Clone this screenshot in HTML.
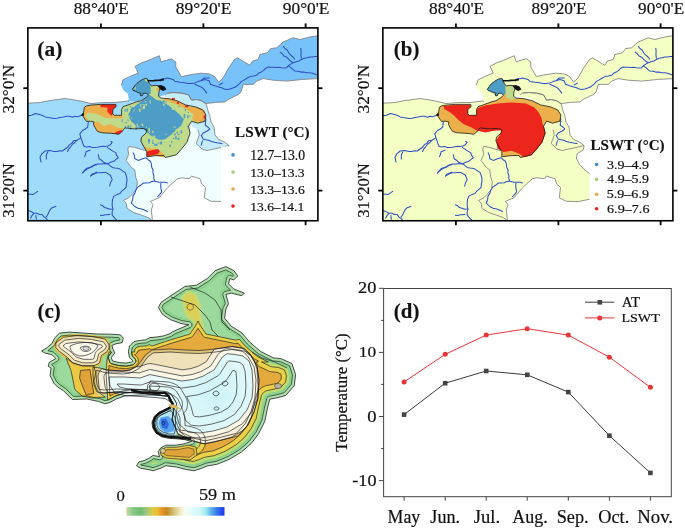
<!DOCTYPE html><html><head><meta charset="utf-8"><style>html,body{margin:0;padding:0;background:#fff}svg{display:block;will-change:transform}</style></head><body><svg width="685" height="529" viewBox="0 0 685 529">
<style>text{font-family:"Liberation Serif",serif;fill:#111}.tk{font-size:16.6px}.lt{font-size:15px;font-weight:bold}.li{font-size:13.5px}.pl{font-size:20px;font-weight:bold}.ct{font-size:16px}.cm{font-size:17.8px}.cy{font-size:16.5px}.cl{font-size:13.6px}.cb{font-size:16.5px}</style>
<rect width="685" height="529" fill="#fff"/>
<defs><clipPath id="ca"><rect x="27.85" y="27.9" width="290.04999999999995" height="192.85"/></clipPath></defs>
<g clip-path="url(#ca)"><path d="M27.9,103.2 L40.0,102.5 L50.0,100.5 L59.0,99.4 L64.8,98.5 L72.0,99.5 L81.8,101.3 L91.0,103.6 L102.6,102.6 L115.0,102.5 L127.7,101.0 L129.0,101.5 L150.0,108.0 L152.0,140.0 L150.0,151.0 L146.1,150.9 L134.8,147.4 L128.7,146.5 L127.8,149.1 L128.7,154.3 L126.1,160.4 L131.3,167.4 L134.8,170.0 L135.7,177.0 L137.4,182.2 L136.5,189.1 L132.2,194.3 L128.7,197.8 L123.5,200.4 L126.1,203.0 L127.0,208.3 L133.9,212.6 L141.7,215.2 L148.7,217.8 L152.2,220.8 L27.9,220.8 Z" fill="#9fdcfc"/>
<path d="M146.1,150.9 L150.0,145.0 L185.0,130.0 L200.0,120.0 L210.0,130.0 L220.0,140.0 L229.2,145.6 L228.1,150.1 L222.4,153.5 L221.3,158.0 L224.7,164.8 L228.1,168.2 L231.5,171.6 L236.0,174.0 L238.0,185.0 L236.0,199.0 L223.5,201.5 L211.3,201.3 L204.3,197.8 L205.5,187.4 L201.7,184.0 L200.0,178.7 L191.3,176.1 L189.6,178.7 L181.7,177.8 L177.4,178.7 L167.8,187.4 L159.1,197.8 L150.4,201.3 L153.0,204.8 L151.3,210.0 L152.2,217.8 L152.2,220.8 L148.7,217.8 L141.7,215.2 L133.9,212.6 L127.0,208.3 L126.1,203.0 L123.5,200.4 L128.7,197.8 L132.2,194.3 L136.5,189.1 L137.4,182.2 L135.7,177.0 L134.8,170.0 L131.3,167.4 L126.1,160.4 L128.7,154.3 L127.8,149.1 L128.7,146.5 L134.8,147.4 Z" fill="#effffd"/>
<path d="M121.3,85.2 L123.0,79.9 L130.0,76.4 L138.2,73.1 L135.1,66.3 L142.0,62.6 L148.0,60.6 L159.3,55.7 L161.1,61.8 L171.4,58.8 L175.8,62.0 L175.8,67.0 L181.4,76.6 L191.1,74.6 L200.8,73.2 L209.1,73.9 L214.6,76.6 L218.8,82.2 L223.0,78.0 L228.5,68.3 L234.1,60.0 L237.5,57.8 L249.9,65.3 L252.4,61.1 L258.3,59.4 L259.9,54.5 L267.4,52.8 L270.7,48.6 L276.6,47.8 L283.2,42.0 L293.2,37.8 L299.9,39.5 L309.8,37.0 L317.9,35.7 L317.9,78.6 L303.2,79.4 L286.5,81.1 L273.2,80.2 L263.2,78.6 L256.6,81.1 L253.3,84.4 L243.3,84.4 L241.0,91.9 L238.2,94.7 L235.0,96.0 L233.3,96.9 L228.3,99.4 L225.0,102.0 L215.4,102.4 L206.0,103.6 L201.4,100.7 L196.7,99.5 L191.5,100.1 L188.5,94.8 L181.5,93.1 L173.4,92.5 L167.5,93.1 L165.2,94.8 L159.0,97.0 L150.7,97.7 L142.5,99.7 L136.4,101.8 L129.0,101.5 L127.7,101.0 L128.9,99.2 L127.7,93.4 L123.0,89.9 Z" fill="#78c2fb"/>
<path d="M165.2,94.8 L167.5,93.1 L173.4,92.5 L181.5,93.1 L188.5,94.8 L191.5,100.1 L196.7,99.5 L201.4,100.7 L206.3,103.8 L207.6,109.5 L209.7,115.5 L211.0,122.0 L214.0,127.0 L215.0,135.0 L218.7,139.5 L224.5,142.0 L229.0,145.6 L221.0,147.5 L207.0,150.5 L202.0,149.0 L196.2,143.5 L199.3,135.0 L198.0,129.7 L191.3,125.7 L188.0,120.0 L185.0,105.0 L175.0,98.0 L165.2,97.0 Z" fill="#c4ecfa"/>
<path d="M27.9,103.2 L40.0,102.5 L50.0,100.5 L59.0,99.4 L64.8,98.5 L72.0,99.5 L81.8,101.3 L91.0,103.6 L102.6,102.6 L115.0,102.5 L127.7,101.0 L129.0,101.5" fill="none" stroke="#7a7a7a" stroke-width="0.8"/>
<path d="M236.0,199.0 L223.5,201.5 L211.3,201.3 L204.3,197.8 L205.5,187.4 L201.7,184.0 L200.0,178.7 L191.3,176.1 L189.6,178.7 L181.7,177.8 L177.4,178.7 L167.8,187.4 L159.1,197.8 L150.4,201.3 L153.0,204.8 L151.3,210.0 L152.2,217.8 L152.2,220.8" fill="none" stroke="#7a7a7a" stroke-width="0.8"/>
<path d="M152.2,220.8 L148.7,217.8 L141.7,215.2 L133.9,212.6 L127.0,208.3 L126.1,203.0 L123.5,200.4 L128.7,197.8 L132.2,194.3 L136.5,189.1 L137.4,182.2 L135.7,177.0 L134.8,170.0 L131.3,167.4 L126.1,160.4 L128.7,154.3 L127.8,149.1 L128.7,146.5 L134.8,147.4 L146.1,150.9" fill="none" stroke="#7a7a7a" stroke-width="0.8"/>
<path d="M229.2,145.6 L228.1,150.1 L222.4,153.5 L221.3,158.0 L224.7,164.8 L228.1,168.2 L231.5,171.6 L236.0,174.0 L238.0,185.0 L236.0,199.0" fill="none" stroke="#7a7a7a" stroke-width="0.8"/>
<path d="M165.2,94.8 L167.5,93.1 L173.4,92.5 L181.5,93.1 L188.5,94.8 L191.5,100.1 L196.7,99.5 L201.4,100.7 L206.3,103.8 L207.6,109.5 L209.7,115.5 L211.0,122.0 L214.0,127.0 L215.0,135.0 L218.7,139.5 L224.5,142.0 L229.0,145.6 L221.0,147.5 L207.0,150.5 L202.0,149.0 L196.2,143.5 L199.3,135.0 L198.0,129.7" fill="none" stroke="#7a7a7a" stroke-width="0.8"/>
<path d="M121.3,85.2 L123.0,79.9 L130.0,76.4 L138.2,73.1 L135.1,66.3 L142.0,62.6 L148.0,60.6 L159.3,55.7 L161.1,61.8 L171.4,58.8 L175.8,62.0 L175.8,67.0 L181.4,76.6 L191.1,74.6 L200.8,73.2 L209.1,73.9 L214.6,76.6 L218.8,82.2 L223.0,78.0 L228.5,68.3 L234.1,60.0 L237.5,57.8 L249.9,65.3 L252.4,61.1 L258.3,59.4 L259.9,54.5 L267.4,52.8 L270.7,48.6 L276.6,47.8 L283.2,42.0 L293.2,37.8 L299.9,39.5 L309.8,37.0 L317.9,35.7" fill="none" stroke="#7a7a7a" stroke-width="0.8"/>
<path d="M317.9,78.6 L303.2,79.4 L286.5,81.1 L273.2,80.2 L263.2,78.6 L256.6,81.1 L253.3,84.4 L243.3,84.4 L241.0,91.9 L238.2,94.7 L235.0,96.0 L233.3,96.9 L228.3,99.4 L225.0,102.0 L215.4,102.4 L206.0,103.6 L201.4,100.7 L196.7,99.5 L191.5,100.1 L188.5,94.8 L181.5,93.1 L173.4,92.5 L167.5,93.1" fill="none" stroke="#7a7a7a" stroke-width="0.8"/>
<path d="M27.9,115.8 L31.5,115.2 L35.5,113.5 L39.5,114.6 L42.5,115.5 L45.2,116.9 L48.2,117.5 L51.2,117.9 L54.2,118.6 L57.1,118.2 L59.9,117.5 L63.3,117.0 L66.7,116.3 L69.6,116.3 L72.4,117.3 L74.9,116.3 L77.7,116.7 L80.3,115.8 L83.0,115.0" fill="none" stroke="#2f4fc2" stroke-width="1.05" stroke-linejoin="round"/>
<path d="M88.3,122.0 L87.7,127.1 L85.3,129.0 L82.6,130.5 L79.8,133.9 L80.9,137.9 L76.9,140.2 L73.5,140.8 L71.9,143.1 L69.4,144.6 L67.9,147.0 L65.1,149.0 L62.2,151.0 L59.5,150.8 L56.9,151.4 L54.2,151.5 L49.7,150.4 L45.2,151.0 L41.8,153.8 L40.0,157.2 L40.5,159.8 L41.2,162.3" fill="none" stroke="#2f4fc2" stroke-width="1.05" stroke-linejoin="round"/>
<path d="M48.0,151.5 L46.3,155.0 L46.3,159.5" fill="none" stroke="#2f4fc2" stroke-width="1.05" stroke-linejoin="round"/>
<path d="M76.9,140.2 L74.9,142.5 L72.4,144.2 L70.6,146.8 L68.7,149.2 L67.3,152.1" fill="none" stroke="#2f4fc2" stroke-width="1.05" stroke-linejoin="round"/>
<path d="M80.9,137.9 L82.0,140.8 L82.9,143.7 L84.3,146.5 L86.9,146.9 L89.6,146.5 L92.2,147.5 L94.8,147.4 L97.4,147.3 L100.0,146.7 L102.6,146.2 L105.2,146.5 L107.9,146.0 L110.4,144.8 L112.2,142.2 L110.4,141.3" fill="none" stroke="#2f4fc2" stroke-width="1.05" stroke-linejoin="round"/>
<path d="M107.0,147.4 L109.9,149.1 L112.7,151.1 L115.7,152.6 L116.6,155.4 L118.3,157.8 L116.0,159.4 L113.9,161.3 L110.4,162.2 L107.8,163.9" fill="none" stroke="#2f4fc2" stroke-width="1.05" stroke-linejoin="round"/>
<path d="M107.8,163.9 L104.6,163.4 L101.5,164.0 L98.3,163.9 L95.5,164.5 L93.0,165.7 L90.4,167.5 L87.5,168.8 L85.0,170.5 L82.6,172.6" fill="none" stroke="#2f4fc2" stroke-width="1.05" stroke-linejoin="round"/>
<path d="M90.4,176.1 L94.8,173.5 L97.6,172.8 L100.4,172.7 L103.3,172.5 L106.1,172.6 L110.4,175.2 L112.2,179.6 L110.4,182.9 L109.6,186.5" fill="none" stroke="#2f4fc2" stroke-width="1.05" stroke-linejoin="round"/>
<path d="M107.8,163.9 L110.0,165.6 L112.2,167.4 L114.8,168.1 L117.4,168.3 L120.0,169.1 L122.6,170.9 L125.2,172.6 L126.2,175.6 L127.0,178.7 L126.9,181.6 L126.3,184.5 L126.1,187.4 L124.0,189.4 L121.7,191.2 L120.0,193.5 L116.9,194.6 L113.9,196.1 L112.6,199.4 L112.2,203.0 L112.2,206.1 L113.0,209.1 L112.1,212.1 L112.2,215.2 L114.7,218.1 L117.4,220.8" fill="none" stroke="#2f4fc2" stroke-width="1.05" stroke-linejoin="round"/>
<path d="M100.0,204.8 L102.5,205.6 L104.5,207.5 L107.0,208.3 L109.9,209.2 L113.0,209.1" fill="none" stroke="#2f4fc2" stroke-width="1.05" stroke-linejoin="round"/>
<path d="M100.0,215.2 L102.6,215.4 L105.2,214.8 L107.8,214.8 L110.4,214.3" fill="none" stroke="#2f4fc2" stroke-width="1.05" stroke-linejoin="round"/>
<path d="M98.3,154.3 L99.1,158.7 L101.5,160.2 L103.5,162.2 L107.8,163.9" fill="none" stroke="#2f4fc2" stroke-width="1.05" stroke-linejoin="round"/>
<path d="M84.3,157.0 L85.5,154.5 L86.1,151.7 L90.4,150.0" fill="none" stroke="#2f4fc2" stroke-width="1.05" stroke-linejoin="round"/>
<path d="M27.9,194.0 L32.9,194.6 L35.5,192.9 L38.1,191.1" fill="none" stroke="#2f4fc2" stroke-width="1.05" stroke-linejoin="round"/>
<path d="M27.9,210.4 L31.0,211.6 L34.0,213.3 L36.8,213.2 L39.4,214.5 L42.2,214.5 L43.9,216.9 L46.3,218.6 L48.0,220.8" fill="none" stroke="#2f4fc2" stroke-width="1.05" stroke-linejoin="round"/>
<path d="M30.5,218.6 L31.9,215.7 L34.0,213.3" fill="none" stroke="#2f4fc2" stroke-width="1.05" stroke-linejoin="round"/>
<path d="M36.4,219.8 L35.8,215.1" fill="none" stroke="#2f4fc2" stroke-width="1.05" stroke-linejoin="round"/>
<path d="M45.8,217.4 L47.5,215.2 L48.6,212.7 L49.8,210.2 L51.6,208.1 L56.3,206.3" fill="none" stroke="#2f4fc2" stroke-width="1.05" stroke-linejoin="round"/>
<path d="M82.1,173.5 L84.3,170.7 L86.8,168.2 L89.4,167.6 L92.0,166.8 L94.3,165.1 L97.0,164.7" fill="none" stroke="#2f4fc2" stroke-width="1.05" stroke-linejoin="round"/>
<path d="M90.3,176.4 L92.1,174.1 L94.6,173.2 L97.0,172.0" fill="none" stroke="#2f4fc2" stroke-width="1.05" stroke-linejoin="round"/>
<path d="M133.0,152.6 L134.4,155.5 L134.8,158.7 L138.3,160.4 L142.6,158.7 L146.1,157.8 L148.1,159.7 L150.4,161.3 L151.4,164.1 L151.7,167.2 L153.0,170.0 L152.9,172.9 L153.9,175.7 L153.8,178.6 L154.8,181.3 L159.1,182.2 L162.0,182.3 L164.9,182.3 L167.8,183.0" fill="none" stroke="#2f4fc2" stroke-width="1.05" stroke-linejoin="round"/>
<path d="M154.8,181.3 L152.0,181.6 L149.2,182.7 L146.4,182.9 L143.5,183.0 L140.5,185.3 L137.4,187.4 L135.8,190.2 L134.8,193.4 L133.0,196.1 L132.6,199.7 L131.3,203.0 L134.8,206.5 L138.1,208.2 L141.7,209.1 L144.8,210.2 L147.8,211.7" fill="none" stroke="#2f4fc2" stroke-width="1.05" stroke-linejoin="round"/>
<path d="M160.9,183.0 L160.7,185.9 L161.0,188.8 L161.7,191.7 L159.7,194.4 L157.4,197.0" fill="none" stroke="#2f4fc2" stroke-width="1.05" stroke-linejoin="round"/>
<path d="M205.9,118.4 L205.6,121.7 L205.2,125.0 L208.5,127.7 L209.8,129.0 L207.2,131.0 L203.2,133.0 L201.2,135.6 L203.2,139.0 L205.8,139.7 L208.5,140.3 L211.4,141.5 L214.5,142.3 L217.1,142.8 L219.8,143.2 L222.4,143.6" fill="none" stroke="#2f4fc2" stroke-width="1.05" stroke-linejoin="round"/>
<path d="M202.6,140.3 L201.8,142.9 L201.2,145.6" fill="none" stroke="#2f4fc2" stroke-width="1.05" stroke-linejoin="round"/>
<path d="M160.0,81.5 L161.9,78.7 L164.8,78.8 L167.5,78.0 L170.2,78.7 L173.0,79.4 L175.1,81.5 L180.0,82.2 L182.8,82.5 L185.5,82.9 L188.3,83.5 L191.1,83.6 L195.2,82.9 L197.9,81.6 L200.8,80.8 L204.9,79.4 L209.1,80.8 L210.5,84.3 L214.6,85.7 L218.8,87.0 L221.6,87.8 L224.3,89.1 L227.1,89.6 L229.9,89.1 L232.7,88.1 L235.4,87.0 L237.5,85.3 L239.6,83.6 L241.4,81.4 L243.8,80.1 L246.9,78.3 L250.0,76.6 L253.3,76.0 L256.6,75.3 L258.6,73.2 L261.3,72.1 L263.6,70.4 L265.6,68.3 L268.2,67.0 L270.8,67.3 L273.4,67.2 L276.0,67.5 L278.7,67.3 L281.3,67.8 L283.9,67.9 L286.5,67.8 L288.4,65.7 L290.7,64.1 L293.2,62.8 L296.0,61.8 L298.9,61.0 L301.5,59.4 L304.2,58.3 L307.0,57.8 L309.8,57.0 L312.5,56.9 L315.2,56.5 L317.9,56.5" fill="none" stroke="#2f4fc2" stroke-width="1.05" stroke-linejoin="round"/>
<path d="M194.5,84.3 L197.1,85.3 L199.7,86.4 L202.2,87.7 L204.7,90.4 L207.0,93.3" fill="none" stroke="#2f4fc2" stroke-width="1.05" stroke-linejoin="round"/>
<path d="M200.8,80.8 L204.2,78.0 L207.0,78.1 L209.8,78.0" fill="none" stroke="#2f4fc2" stroke-width="1.05" stroke-linejoin="round"/>
<path d="M218.8,85.0 L223.0,82.9" fill="none" stroke="#2f4fc2" stroke-width="1.05" stroke-linejoin="round"/>
<path d="M293.2,62.8 L290.8,61.2 L288.7,59.3 L286.7,57.2 L284.0,56.0 L282.2,53.7 L279.9,52.0" fill="none" stroke="#2f4fc2" stroke-width="1.05" stroke-linejoin="round"/>
<path d="M294.9,59.4 L293.1,57.0 L290.8,55.1 L288.8,53.0 L287.4,50.3 L284.9,48.5 L283.2,46.1" fill="none" stroke="#2f4fc2" stroke-width="1.05" stroke-linejoin="round"/>
<path d="M301.5,58.6 L301.0,55.9 L301.0,53.2 L301.1,50.5 L300.7,47.8" fill="none" stroke="#2f4fc2" stroke-width="1.05" stroke-linejoin="round"/>
<path d="M288.2,66.1 L290.7,67.4 L292.8,69.3 L294.9,71.1 L297.9,71.3 L300.8,72.1 L303.8,72.1 L306.8,72.8 L309.8,72.8 L312.6,73.3 L315.3,74.3 L317.9,75.3" fill="none" stroke="#2f4fc2" stroke-width="1.05" stroke-linejoin="round"/>
<path d="M146.0,97.5 L141.1,100.7 L136.4,101.8 L128.2,104.9 L123.1,106.6 L121.6,109.5 L121.6,115.3 L114.3,115.3 L112.8,113.9 L112.8,109.5 L116.1,106.6 L115.8,104.4 L100.4,104.4 L90.9,105.1 L86.6,105.8 L84.4,107.3 L83.3,114.0 L82.9,116.1 L84.7,119.0 L86.6,121.5 L90.2,121.2 L93.9,121.9 L93.5,124.1 L94.6,127.0 L96.1,129.2 L97.5,131.4 L101.9,132.8 L109.2,133.2 L114.3,133.6 L118.7,134.3 L121.6,132.1 L123.8,129.2 L125.1,127.9 L134.3,128.9 L143.5,128.5 L146.8,129.9 L146.1,133.1 L141.5,137.1 L140.9,141.0 L143.5,146.3 L146.8,151.5 L146.8,156.8 L155.3,155.7 L163.9,155.5 L165.2,157.5 L169.8,156.5 L176.3,154.8 L181.6,148.9 L186.9,142.3 L190.1,133.1 L188.5,126.3 L191.6,121.2 L197.7,123.2 L204.9,121.2 L205.9,115.0 L202.8,110.0 L195.7,106.9 L185.5,104.9 L177.3,100.8 L169.1,98.7 L160.9,98.0 L158.6,96.3 L158.9,91.9 L160.0,89.0 L159.3,85.8 L155.0,85.3 L151.3,86.0 L149.3,83.5 L148.4,81.0 L147.3,78.8 L145.4,78.4 L142.5,79.5 L139.6,81.3 L136.7,83.5 L134.5,86.1 L132.3,89.3 L133.0,90.4 L135.9,91.5 L138.1,92.6 L141.1,93.4 L140.0,94.1 L140.7,95.9 L142.5,95.5 L143.2,93.4 L146.5,93.2 L148.4,95.4 Z" fill="#c0da8c"/>
<path d="M132.3,89.3 L134.5,86.1 L136.7,83.5 L139.6,81.3 L142.5,79.5 L145.4,78.4 L147.3,78.8 L148.4,81.0 L149.3,83.5 L150.5,87.0 L150.8,93.0 L148.5,95.5 L146.5,93.2 L143.2,93.4 L142.5,95.5 L140.7,95.9 L140.0,94.1 L141.1,93.4 L138.1,92.6 L135.9,91.5 L133.0,90.4 Z" fill="#4e9dc6"/>
<path d="M144,79.5 L147.5,78.9 L148.4,82 L146,81.5 Z M134,88.5 L136,86.5 L135.5,90 Z" fill="#c0da8c"/>
<circle cx="158" cy="89.3" r="1.6" fill="#ebb04c"/>
<path d="M138.7,103.3 L144.0,99.5 L149.5,95.0 L152.0,96.5 L156.6,99.9 L160.9,100.8 L169.4,105.9 L174.5,110.1 L179.6,114.4 L183.9,119.5 L181.3,125.5 L176.2,129.7 L171.1,134.8 L164.4,139.7 L159.2,139.7 L152.6,137.1 L147.3,132.5 L144.7,129.9 L139.5,127.9 L135.5,125.3 L131.0,121.0 L128.0,115.0 L131.0,110.0 L135.0,106.0 Z" fill="#4e9dc6"/>
<rect x="142.7" y="104.2" width="2" height="1" fill="#c0da8c"/><rect x="136.8" y="123.5" width="1" height="3" fill="#c0da8c"/><rect x="135.6" y="127.1" width="1" height="3" fill="#4e9dc6"/><rect x="140.3" y="103.9" width="1" height="3" fill="#c0da8c"/><rect x="162.6" y="100.5" width="2" height="2" fill="#4e9dc6"/><rect x="175.2" y="136.3" width="1.5" height="3" fill="#4e9dc6"/><rect x="121.6" y="119.2" width="1" height="3" fill="#4e9dc6"/><rect x="178.2" y="105.8" width="1.5" height="1" fill="#4e9dc6"/><rect x="164.4" y="100.0" width="1" height="1" fill="#4e9dc6"/><rect x="127.7" y="125.8" width="1" height="1" fill="#4e9dc6"/><rect x="157.6" y="142.5" width="2" height="1" fill="#4e9dc6"/><rect x="186.9" y="125.9" width="1.5" height="1" fill="#4e9dc6"/><rect x="154.2" y="143.9" width="1.5" height="2" fill="#4e9dc6"/><rect x="180.4" y="130.4" width="1.5" height="3" fill="#4e9dc6"/><rect x="171.8" y="107.9" width="2" height="2" fill="#c0da8c"/><rect x="176.6" y="131.7" width="1.5" height="2" fill="#4e9dc6"/><rect x="127.2" y="119.6" width="1.5" height="1" fill="#4e9dc6"/><rect x="128.4" y="115.6" width="2" height="1" fill="#c0da8c"/><rect x="148.1" y="142.4" width="2" height="1" fill="#4e9dc6"/><rect x="183.7" y="114.0" width="1.5" height="3" fill="#4e9dc6"/><rect x="183.3" y="117.2" width="2" height="1" fill="#4e9dc6"/><rect x="129.9" y="126.7" width="1" height="3" fill="#4e9dc6"/><rect x="169.4" y="144.7" width="1.5" height="2" fill="#4e9dc6"/><rect x="145.0" y="101.4" width="1.5" height="1" fill="#c0da8c"/><rect x="152.1" y="130.8" width="1.5" height="2" fill="#c0da8c"/><rect x="177.4" y="137.8" width="2" height="2" fill="#4e9dc6"/><rect x="149.8" y="100.5" width="1" height="3" fill="#c0da8c"/><rect x="138.2" y="126.2" width="1" height="1" fill="#c0da8c"/><rect x="184.9" y="109.9" width="1" height="1" fill="#4e9dc6"/><rect x="155.4" y="143.9" width="2" height="2" fill="#4e9dc6"/><rect x="141.5" y="107.3" width="1" height="2" fill="#c0da8c"/><rect x="163.8" y="139.2" width="1.5" height="1" fill="#c0da8c"/><rect x="130.1" y="125.2" width="1.5" height="1" fill="#4e9dc6"/><rect x="187.2" y="115.1" width="1.5" height="3" fill="#4e9dc6"/><rect x="173.7" y="126.6" width="2" height="1" fill="#c0da8c"/><rect x="130.3" y="109.2" width="2" height="3" fill="#4e9dc6"/><rect x="189.6" y="115.6" width="1" height="1" fill="#4e9dc6"/><rect x="172.9" y="138.0" width="1.5" height="1" fill="#4e9dc6"/><rect x="148.0" y="139.0" width="2" height="3" fill="#4e9dc6"/><rect x="163.0" y="103.7" width="1.5" height="2" fill="#c0da8c"/><rect x="141.1" y="123.8" width="1.5" height="1" fill="#c0da8c"/><rect x="131.3" y="107.0" width="1.5" height="3" fill="#4e9dc6"/><rect x="129.8" y="106.2" width="1" height="1" fill="#4e9dc6"/><rect x="126.4" y="108.5" width="1.5" height="3" fill="#4e9dc6"/><rect x="139.0" y="108.9" width="1.5" height="3" fill="#c0da8c"/><rect x="165.3" y="133.7" width="1.5" height="1" fill="#c0da8c"/><rect x="124.9" y="122.2" width="2" height="1" fill="#4e9dc6"/><rect x="135.7" y="125.9" width="1" height="3" fill="#4e9dc6"/><rect x="152.2" y="143.0" width="2" height="1" fill="#4e9dc6"/><rect x="184.8" y="107.9" width="1" height="3" fill="#4e9dc6"/><rect x="187.9" y="112.0" width="1" height="1" fill="#4e9dc6"/><rect x="149.1" y="131.1" width="1" height="2" fill="#c0da8c"/><rect x="143.0" y="105.9" width="2" height="3" fill="#c0da8c"/><rect x="137.4" y="127.0" width="1.5" height="1" fill="#4e9dc6"/><rect x="152.5" y="135.6" width="1" height="2" fill="#c0da8c"/><rect x="124.4" y="126.1" width="1.5" height="2" fill="#4e9dc6"/><rect x="177.6" y="134.1" width="2" height="1" fill="#4e9dc6"/><rect x="148.5" y="128.2" width="1.5" height="3" fill="#c0da8c"/><rect x="131.2" y="117.5" width="1" height="1" fill="#c0da8c"/><rect x="152.3" y="139.8" width="1" height="3" fill="#4e9dc6"/><rect x="174.2" y="133.5" width="1.5" height="2" fill="#4e9dc6"/><rect x="138.7" y="109.2" width="1.5" height="1" fill="#c0da8c"/><rect x="133.0" y="108.3" width="1.5" height="3" fill="#c0da8c"/><rect x="124.5" y="109.1" width="1" height="3" fill="#4e9dc6"/><rect x="165.5" y="101.8" width="1.5" height="1" fill="#4e9dc6"/><rect x="153.2" y="136.3" width="1.5" height="2" fill="#c0da8c"/><rect x="127.4" y="125.6" width="2" height="2" fill="#4e9dc6"/><rect x="145.8" y="103.8" width="1" height="2" fill="#c0da8c"/><rect x="171.3" y="140.9" width="1" height="2" fill="#4e9dc6"/><rect x="146.0" y="126.8" width="1" height="1" fill="#c0da8c"/><rect x="175.7" y="128.9" width="1" height="3" fill="#c0da8c"/><rect x="141.9" y="124.2" width="1.5" height="2" fill="#c0da8c"/><rect x="148.4" y="139.4" width="1.5" height="1" fill="#4e9dc6"/><rect x="160.1" y="141.5" width="2" height="3" fill="#4e9dc6"/><rect x="144.4" y="104.8" width="1" height="1" fill="#c0da8c"/><rect x="154.3" y="135.6" width="1" height="2" fill="#c0da8c"/><rect x="132.8" y="107.5" width="1.5" height="3" fill="#4e9dc6"/><rect x="145.1" y="104.2" width="2" height="1" fill="#c0da8c"/>
<path d="M83.3,114.0 L84.4,107.3 L86.6,105.8 L90.9,105.1 L100.4,104.4 L115.8,104.4 L116.1,106.6 L112.8,109.5 L112.8,113.9 L114.3,115.3 L121.6,115.3 L124.0,118.0 L118.0,118.5 L105.0,118.0 L97.5,114.0 L88.0,112.4 L85.1,116.1 L88.0,119.0 L86.6,121.5 L84.7,119.0 L82.9,116.1 Z" fill="#ebb04c"/>
<path d="M93.9,121.9 L98.0,122.0 L104.0,126.3 L110.0,124.0 L118.0,127.7 L124.0,128.5 L121.6,132.1 L118.7,134.3 L114.3,133.6 L109.2,133.2 L101.9,132.8 L97.5,131.4 L96.1,129.2 L94.6,127.0 L93.5,124.1 Z" fill="#ebb04c"/>
<path d="M187.4,110.0 L189.7,107.1 L196.7,107.1 L201.4,108.3 L204.9,111.2 L206.1,117.0 L204.9,120.5 L201.4,122.3 L196.7,122.3 L193.2,120.5 L192.1,117.0 L193.8,114.7 L190.9,112.4 Z" fill="#ebb04c"/>
<path d="M165.0,98.3 L172.0,99.0 L180.0,102.0 L186.0,105.0 L190.0,107.0 L188.0,110.0 L184.0,108.0 L178.0,105.0 L170.0,102.0 L164.0,100.0 Z" fill="#ebb04c"/>
<path d="M140.8,138.4 L142.1,143.7 L146.0,147.6 L151.3,148.3 L156.5,148.9 L160.5,151.5 L164.4,154.8 L163.8,157.5 L155.3,155.7 L146.8,156.8 L146.8,151.5 L143.5,146.3 L140.9,141.0 Z" fill="#ebb04c"/>
<path d="M100.4,104.4 L115.8,104.4 L116.1,106.6 L112.8,109.5 L112.8,113.9 L111.4,115.7 L107.4,111.7 L107.4,107.5 L100.4,107.3 Z" fill="#ec261c"/>
<path d="M113.6,133.6 L117.2,131.4 L120.9,129.9 L122.8,131.0 L118.7,134.3 Z" fill="#ec261c"/>
<path d="M146.7,151.5 L151.3,150.2 L157.9,148.9 L159.8,150.9 L157.9,154.2 L155.2,154.8 L151.3,155.5 L146.7,156.5 Z" fill="#ec261c"/>
<rect x="171.9" y="97.9" width="3" height="2" fill="#ec261c"/>
<rect x="176.9" y="101.8" width="2.2" height="2" fill="#ec261c"/>
<rect x="185.3" y="105.3" width="3" height="2" fill="#ec261c"/>
<rect x="203.5" y="115.5" width="2" height="3" fill="#ec261c"/>
<path d="M146.0,97.5 L141.1,100.7 L136.4,101.8 L128.2,104.9 L123.1,106.6 L121.6,109.5 L121.6,115.3 L114.3,115.3 L112.8,113.9 L112.8,109.5 L116.1,106.6 L115.8,104.4 L100.4,104.4 L90.9,105.1 L86.6,105.8 L84.4,107.3 L83.3,114.0 L82.9,116.1 L84.7,119.0 L86.6,121.5 L90.2,121.2 L93.9,121.9 L93.5,124.1 L94.6,127.0 L96.1,129.2 L97.5,131.4 L101.9,132.8 L109.2,133.2 L114.3,133.6 L118.7,134.3 L121.6,132.1 L123.8,129.2 L125.1,127.9 L134.3,128.9 L143.5,128.5 L146.8,129.9 L146.1,133.1 L141.5,137.1 L140.9,141.0 L143.5,146.3 L146.8,151.5 L146.8,156.8 L155.3,155.7 L163.9,155.5 L165.2,157.5 L169.8,156.5 L176.3,154.8 L181.6,148.9 L186.9,142.3 L190.1,133.1 L188.5,126.3 L191.6,121.2 L197.7,123.2 L204.9,121.2 L205.9,115.0 L202.8,110.0 L195.7,106.9 L185.5,104.9 L177.3,100.8 L169.1,98.7 L160.9,98.0 L158.6,96.3 L158.9,91.9 L160.0,89.0 L159.3,85.8 L155.0,85.3 L151.3,86.0 L149.3,83.5 L148.4,81.0 L147.3,78.8 L145.4,78.4 L142.5,79.5 L139.6,81.3 L136.7,83.5 L134.5,86.1 L132.3,89.3 L133.0,90.4 L135.9,91.5 L138.1,92.6 L141.1,93.4 L140.0,94.1 L140.7,95.9 L142.5,95.5 L143.2,93.4 L146.5,93.2 L148.4,95.4 Z" fill="none" stroke="#1a1a1a" stroke-width="0.8"/>
<path d="M147.5,80.8 L153.7,80.6 L159.8,80.1 L163.9,79.6" fill="none" stroke="#111" stroke-width="1.6"/>
<path d="M157.5,86 L161,85 L164.5,86.5 L166.5,89.5 L163,91 L160.5,89.5 Z" fill="#111"/>
<path d="M80.5,115.5 L83.3,112.5 L84,116 Z" fill="#111"/></g>
<rect x="221" y="146.5" width="97" height="58" fill="#fff"/>
<circle cx="233" cy="154.9" r="1.8" fill="#3f8fcf"/>
<circle cx="233" cy="172.1" r="1.8" fill="#a6d07a"/>
<circle cx="233" cy="189" r="1.8" fill="#eba54a"/>
<circle cx="233" cy="206.1" r="1.8" fill="#ea2424"/>
<text transform="translate(235.1,137.06) scale(0.1517,0.1400)" font-size="100" font-weight="bold" fill="#111" stroke="#111" stroke-width="1.07" >LSWT (°C)</text>
<text transform="translate(250.27,159.93) scale(0.1370,0.1353)" font-size="100" font-weight="normal" fill="#111" stroke="#111" stroke-width="1.48" >12.7–13.0</text>
<text transform="translate(250.28,176.84) scale(0.1359,0.1323)" font-size="100" font-weight="normal" fill="#111" stroke="#111" stroke-width="1.51" >13.0–13.3</text>
<text transform="translate(250.28,193.94) scale(0.1361,0.1309)" font-size="100" font-weight="normal" fill="#111" stroke="#111" stroke-width="1.53" >13.3–13.6</text>
<text transform="translate(250.29,210.84) scale(0.1348,0.1323)" font-size="100" font-weight="normal" fill="#111" stroke="#111" stroke-width="1.51" >13.6–14.1</text>
<text transform="translate(37.34,56.47) scale(0.2139,0.2111)" font-size="100" font-weight="bold" fill="#111" stroke="#111" stroke-width="0.71" >(a)</text>
<text transform="translate(73.71,13.55) scale(0.1723,0.1735)" font-size="100" font-weight="normal" fill="#111" stroke="#111" stroke-width="1.15" >88°40&#39;E</text>
<text transform="translate(175.8,13.55) scale(0.1742,0.1735)" font-size="100" font-weight="normal" fill="#111" stroke="#111" stroke-width="1.15" >89°20&#39;E</text>
<text transform="translate(282.78,13.55) scale(0.1736,0.1735)" font-size="100" font-weight="normal" fill="#111" stroke="#111" stroke-width="1.15" >90°0&#39;E</text>
<text transform="translate(13.65,113.57) rotate(-90) scale(0.1744,0.1765)" font-size="100" font-weight="normal" fill="#111" stroke="#111" stroke-width="1.13" >32°0&#39;N</text>
<text transform="translate(13.65,217.83) rotate(-90) scale(0.1653,0.1765)" font-size="100" font-weight="normal" fill="#111" stroke="#111" stroke-width="1.13" >31°20&#39;N</text>
<rect x="27.85" y="27.9" width="290.05" height="192.85" fill="none" stroke="#000" stroke-width="1.6"/>
<line x1="100.9" y1="27.9" x2="100.9" y2="23.4" stroke="#000" stroke-width="1.8"/>
<line x1="100.9" y1="220.75" x2="100.9" y2="225.25" stroke="#000" stroke-width="1.8"/>
<line x1="203.4" y1="27.9" x2="203.4" y2="23.4" stroke="#000" stroke-width="1.8"/>
<line x1="203.4" y1="220.75" x2="203.4" y2="225.25" stroke="#000" stroke-width="1.8"/>
<line x1="305.6" y1="27.9" x2="305.6" y2="23.4" stroke="#000" stroke-width="1.8"/>
<line x1="305.6" y1="220.75" x2="305.6" y2="225.25" stroke="#000" stroke-width="1.8"/>
<line x1="27.85" y1="88.2" x2="23.35" y2="88.2" stroke="#000" stroke-width="1.8"/>
<line x1="317.9" y1="88.2" x2="322.4" y2="88.2" stroke="#000" stroke-width="1.8"/>
<line x1="27.85" y1="190.6" x2="23.35" y2="190.6" stroke="#000" stroke-width="1.8"/>
<line x1="317.9" y1="190.6" x2="322.4" y2="190.6" stroke="#000" stroke-width="1.8"/>
<g transform="translate(355.0,0)"><g clip-path="url(#ca)"><path d="M27.9,103.2 L40.0,102.5 L50.0,100.5 L59.0,99.4 L64.8,98.5 L72.0,99.5 L81.8,101.3 L91.0,103.6 L102.6,102.6 L115.0,102.5 L127.7,101.0 L129.0,101.5 L150.0,108.0 L152.0,140.0 L150.0,151.0 L146.1,150.9 L134.8,147.4 L128.7,146.5 L127.8,149.1 L128.7,154.3 L126.1,160.4 L131.3,167.4 L134.8,170.0 L135.7,177.0 L137.4,182.2 L136.5,189.1 L132.2,194.3 L128.7,197.8 L123.5,200.4 L126.1,203.0 L127.0,208.3 L133.9,212.6 L141.7,215.2 L148.7,217.8 L152.2,220.8 L27.9,220.8 Z" fill="#f4ffc4"/>
<path d="M146.1,150.9 L150.0,145.0 L185.0,130.0 L200.0,120.0 L210.0,130.0 L220.0,140.0 L229.2,145.6 L228.1,150.1 L222.4,153.5 L221.3,158.0 L224.7,164.8 L228.1,168.2 L231.5,171.6 L236.0,174.0 L238.0,185.0 L236.0,199.0 L223.5,201.5 L211.3,201.3 L204.3,197.8 L205.5,187.4 L201.7,184.0 L200.0,178.7 L191.3,176.1 L189.6,178.7 L181.7,177.8 L177.4,178.7 L167.8,187.4 L159.1,197.8 L150.4,201.3 L153.0,204.8 L151.3,210.0 L152.2,217.8 L152.2,220.8 L148.7,217.8 L141.7,215.2 L133.9,212.6 L127.0,208.3 L126.1,203.0 L123.5,200.4 L128.7,197.8 L132.2,194.3 L136.5,189.1 L137.4,182.2 L135.7,177.0 L134.8,170.0 L131.3,167.4 L126.1,160.4 L128.7,154.3 L127.8,149.1 L128.7,146.5 L134.8,147.4 Z" fill="#f4ffc4"/>
<path d="M121.3,85.2 L123.0,79.9 L130.0,76.4 L138.2,73.1 L135.1,66.3 L142.0,62.6 L148.0,60.6 L159.3,55.7 L161.1,61.8 L171.4,58.8 L175.8,62.0 L175.8,67.0 L181.4,76.6 L191.1,74.6 L200.8,73.2 L209.1,73.9 L214.6,76.6 L218.8,82.2 L223.0,78.0 L228.5,68.3 L234.1,60.0 L237.5,57.8 L249.9,65.3 L252.4,61.1 L258.3,59.4 L259.9,54.5 L267.4,52.8 L270.7,48.6 L276.6,47.8 L283.2,42.0 L293.2,37.8 L299.9,39.5 L309.8,37.0 L317.9,35.7 L317.9,78.6 L303.2,79.4 L286.5,81.1 L273.2,80.2 L263.2,78.6 L256.6,81.1 L253.3,84.4 L243.3,84.4 L241.0,91.9 L238.2,94.7 L235.0,96.0 L233.3,96.9 L228.3,99.4 L225.0,102.0 L215.4,102.4 L206.0,103.6 L201.4,100.7 L196.7,99.5 L191.5,100.1 L188.5,94.8 L181.5,93.1 L173.4,92.5 L167.5,93.1 L165.2,94.8 L159.0,97.0 L150.7,97.7 L142.5,99.7 L136.4,101.8 L129.0,101.5 L127.7,101.0 L128.9,99.2 L127.7,93.4 L123.0,89.9 Z" fill="#f4ffc4"/>
<path d="M165.2,94.8 L167.5,93.1 L173.4,92.5 L181.5,93.1 L188.5,94.8 L191.5,100.1 L196.7,99.5 L201.4,100.7 L206.3,103.8 L207.6,109.5 L209.7,115.5 L211.0,122.0 L214.0,127.0 L215.0,135.0 L218.7,139.5 L224.5,142.0 L229.0,145.6 L221.0,147.5 L207.0,150.5 L202.0,149.0 L196.2,143.5 L199.3,135.0 L198.0,129.7 L191.3,125.7 L188.0,120.0 L185.0,105.0 L175.0,98.0 L165.2,97.0 Z" fill="#f4ffc4"/>
<path d="M27.9,103.2 L40.0,102.5 L50.0,100.5 L59.0,99.4 L64.8,98.5 L72.0,99.5 L81.8,101.3 L91.0,103.6 L102.6,102.6 L115.0,102.5 L127.7,101.0 L129.0,101.5" fill="none" stroke="#7a7a7a" stroke-width="0.8"/>
<path d="M236.0,199.0 L223.5,201.5 L211.3,201.3 L204.3,197.8 L205.5,187.4 L201.7,184.0 L200.0,178.7 L191.3,176.1 L189.6,178.7 L181.7,177.8 L177.4,178.7 L167.8,187.4 L159.1,197.8 L150.4,201.3 L153.0,204.8 L151.3,210.0 L152.2,217.8 L152.2,220.8" fill="none" stroke="#7a7a7a" stroke-width="0.8"/>
<path d="M152.2,220.8 L148.7,217.8 L141.7,215.2 L133.9,212.6 L127.0,208.3 L126.1,203.0 L123.5,200.4 L128.7,197.8 L132.2,194.3 L136.5,189.1 L137.4,182.2 L135.7,177.0 L134.8,170.0 L131.3,167.4 L126.1,160.4 L128.7,154.3 L127.8,149.1 L128.7,146.5 L134.8,147.4 L146.1,150.9" fill="none" stroke="#7a7a7a" stroke-width="0.8"/>
<path d="M229.2,145.6 L228.1,150.1 L222.4,153.5 L221.3,158.0 L224.7,164.8 L228.1,168.2 L231.5,171.6 L236.0,174.0 L238.0,185.0 L236.0,199.0" fill="none" stroke="#7a7a7a" stroke-width="0.8"/>
<path d="M165.2,94.8 L167.5,93.1 L173.4,92.5 L181.5,93.1 L188.5,94.8 L191.5,100.1 L196.7,99.5 L201.4,100.7 L206.3,103.8 L207.6,109.5 L209.7,115.5 L211.0,122.0 L214.0,127.0 L215.0,135.0 L218.7,139.5 L224.5,142.0 L229.0,145.6 L221.0,147.5 L207.0,150.5 L202.0,149.0 L196.2,143.5 L199.3,135.0 L198.0,129.7" fill="none" stroke="#7a7a7a" stroke-width="0.8"/>
<path d="M121.3,85.2 L123.0,79.9 L130.0,76.4 L138.2,73.1 L135.1,66.3 L142.0,62.6 L148.0,60.6 L159.3,55.7 L161.1,61.8 L171.4,58.8 L175.8,62.0 L175.8,67.0 L181.4,76.6 L191.1,74.6 L200.8,73.2 L209.1,73.9 L214.6,76.6 L218.8,82.2 L223.0,78.0 L228.5,68.3 L234.1,60.0 L237.5,57.8 L249.9,65.3 L252.4,61.1 L258.3,59.4 L259.9,54.5 L267.4,52.8 L270.7,48.6 L276.6,47.8 L283.2,42.0 L293.2,37.8 L299.9,39.5 L309.8,37.0 L317.9,35.7" fill="none" stroke="#7a7a7a" stroke-width="0.8"/>
<path d="M317.9,78.6 L303.2,79.4 L286.5,81.1 L273.2,80.2 L263.2,78.6 L256.6,81.1 L253.3,84.4 L243.3,84.4 L241.0,91.9 L238.2,94.7 L235.0,96.0 L233.3,96.9 L228.3,99.4 L225.0,102.0 L215.4,102.4 L206.0,103.6 L201.4,100.7 L196.7,99.5 L191.5,100.1 L188.5,94.8 L181.5,93.1 L173.4,92.5 L167.5,93.1" fill="none" stroke="#7a7a7a" stroke-width="0.8"/>
<path d="M27.9,115.8 L31.5,115.2 L35.5,113.5 L39.5,114.6 L42.5,115.5 L45.2,116.9 L48.2,117.5 L51.2,117.9 L54.2,118.6 L57.1,118.2 L59.9,117.5 L63.3,117.0 L66.7,116.3 L69.6,116.3 L72.4,117.3 L74.9,116.3 L77.7,116.7 L80.3,115.8 L83.0,115.0" fill="none" stroke="#2f4fc2" stroke-width="1.05" stroke-linejoin="round"/>
<path d="M88.3,122.0 L87.7,127.1 L85.3,129.0 L82.6,130.5 L79.8,133.9 L80.9,137.9 L76.9,140.2 L73.5,140.8 L71.9,143.1 L69.4,144.6 L67.9,147.0 L65.1,149.0 L62.2,151.0 L59.5,150.8 L56.9,151.4 L54.2,151.5 L49.7,150.4 L45.2,151.0 L41.8,153.8 L40.0,157.2 L40.5,159.8 L41.2,162.3" fill="none" stroke="#2f4fc2" stroke-width="1.05" stroke-linejoin="round"/>
<path d="M48.0,151.5 L46.3,155.0 L46.3,159.5" fill="none" stroke="#2f4fc2" stroke-width="1.05" stroke-linejoin="round"/>
<path d="M76.9,140.2 L74.9,142.5 L72.4,144.2 L70.6,146.8 L68.7,149.2 L67.3,152.1" fill="none" stroke="#2f4fc2" stroke-width="1.05" stroke-linejoin="round"/>
<path d="M80.9,137.9 L82.0,140.8 L82.9,143.7 L84.3,146.5 L86.9,146.9 L89.6,146.5 L92.2,147.5 L94.8,147.4 L97.4,147.3 L100.0,146.7 L102.6,146.2 L105.2,146.5 L107.9,146.0 L110.4,144.8 L112.2,142.2 L110.4,141.3" fill="none" stroke="#2f4fc2" stroke-width="1.05" stroke-linejoin="round"/>
<path d="M107.0,147.4 L109.9,149.1 L112.7,151.1 L115.7,152.6 L116.6,155.4 L118.3,157.8 L116.0,159.4 L113.9,161.3 L110.4,162.2 L107.8,163.9" fill="none" stroke="#2f4fc2" stroke-width="1.05" stroke-linejoin="round"/>
<path d="M107.8,163.9 L104.6,163.4 L101.5,164.0 L98.3,163.9 L95.5,164.5 L93.0,165.7 L90.4,167.5 L87.5,168.8 L85.0,170.5 L82.6,172.6" fill="none" stroke="#2f4fc2" stroke-width="1.05" stroke-linejoin="round"/>
<path d="M90.4,176.1 L94.8,173.5 L97.6,172.8 L100.4,172.7 L103.3,172.5 L106.1,172.6 L110.4,175.2 L112.2,179.6 L110.4,182.9 L109.6,186.5" fill="none" stroke="#2f4fc2" stroke-width="1.05" stroke-linejoin="round"/>
<path d="M107.8,163.9 L110.0,165.6 L112.2,167.4 L114.8,168.1 L117.4,168.3 L120.0,169.1 L122.6,170.9 L125.2,172.6 L126.2,175.6 L127.0,178.7 L126.9,181.6 L126.3,184.5 L126.1,187.4 L124.0,189.4 L121.7,191.2 L120.0,193.5 L116.9,194.6 L113.9,196.1 L112.6,199.4 L112.2,203.0 L112.2,206.1 L113.0,209.1 L112.1,212.1 L112.2,215.2 L114.7,218.1 L117.4,220.8" fill="none" stroke="#2f4fc2" stroke-width="1.05" stroke-linejoin="round"/>
<path d="M100.0,204.8 L102.5,205.6 L104.5,207.5 L107.0,208.3 L109.9,209.2 L113.0,209.1" fill="none" stroke="#2f4fc2" stroke-width="1.05" stroke-linejoin="round"/>
<path d="M100.0,215.2 L102.6,215.4 L105.2,214.8 L107.8,214.8 L110.4,214.3" fill="none" stroke="#2f4fc2" stroke-width="1.05" stroke-linejoin="round"/>
<path d="M98.3,154.3 L99.1,158.7 L101.5,160.2 L103.5,162.2 L107.8,163.9" fill="none" stroke="#2f4fc2" stroke-width="1.05" stroke-linejoin="round"/>
<path d="M84.3,157.0 L85.5,154.5 L86.1,151.7 L90.4,150.0" fill="none" stroke="#2f4fc2" stroke-width="1.05" stroke-linejoin="round"/>
<path d="M27.9,194.0 L32.9,194.6 L35.5,192.9 L38.1,191.1" fill="none" stroke="#2f4fc2" stroke-width="1.05" stroke-linejoin="round"/>
<path d="M27.9,210.4 L31.0,211.6 L34.0,213.3 L36.8,213.2 L39.4,214.5 L42.2,214.5 L43.9,216.9 L46.3,218.6 L48.0,220.8" fill="none" stroke="#2f4fc2" stroke-width="1.05" stroke-linejoin="round"/>
<path d="M30.5,218.6 L31.9,215.7 L34.0,213.3" fill="none" stroke="#2f4fc2" stroke-width="1.05" stroke-linejoin="round"/>
<path d="M36.4,219.8 L35.8,215.1" fill="none" stroke="#2f4fc2" stroke-width="1.05" stroke-linejoin="round"/>
<path d="M45.8,217.4 L47.5,215.2 L48.6,212.7 L49.8,210.2 L51.6,208.1 L56.3,206.3" fill="none" stroke="#2f4fc2" stroke-width="1.05" stroke-linejoin="round"/>
<path d="M82.1,173.5 L84.3,170.7 L86.8,168.2 L89.4,167.6 L92.0,166.8 L94.3,165.1 L97.0,164.7" fill="none" stroke="#2f4fc2" stroke-width="1.05" stroke-linejoin="round"/>
<path d="M90.3,176.4 L92.1,174.1 L94.6,173.2 L97.0,172.0" fill="none" stroke="#2f4fc2" stroke-width="1.05" stroke-linejoin="round"/>
<path d="M133.0,152.6 L134.4,155.5 L134.8,158.7 L138.3,160.4 L142.6,158.7 L146.1,157.8 L148.1,159.7 L150.4,161.3 L151.4,164.1 L151.7,167.2 L153.0,170.0 L152.9,172.9 L153.9,175.7 L153.8,178.6 L154.8,181.3 L159.1,182.2 L162.0,182.3 L164.9,182.3 L167.8,183.0" fill="none" stroke="#2f4fc2" stroke-width="1.05" stroke-linejoin="round"/>
<path d="M154.8,181.3 L152.0,181.6 L149.2,182.7 L146.4,182.9 L143.5,183.0 L140.5,185.3 L137.4,187.4 L135.8,190.2 L134.8,193.4 L133.0,196.1 L132.6,199.7 L131.3,203.0 L134.8,206.5 L138.1,208.2 L141.7,209.1 L144.8,210.2 L147.8,211.7" fill="none" stroke="#2f4fc2" stroke-width="1.05" stroke-linejoin="round"/>
<path d="M160.9,183.0 L160.7,185.9 L161.0,188.8 L161.7,191.7 L159.7,194.4 L157.4,197.0" fill="none" stroke="#2f4fc2" stroke-width="1.05" stroke-linejoin="round"/>
<path d="M205.9,118.4 L205.6,121.7 L205.2,125.0 L208.5,127.7 L209.8,129.0 L207.2,131.0 L203.2,133.0 L201.2,135.6 L203.2,139.0 L205.8,139.7 L208.5,140.3 L211.4,141.5 L214.5,142.3 L217.1,142.8 L219.8,143.2 L222.4,143.6" fill="none" stroke="#2f4fc2" stroke-width="1.05" stroke-linejoin="round"/>
<path d="M202.6,140.3 L201.8,142.9 L201.2,145.6" fill="none" stroke="#2f4fc2" stroke-width="1.05" stroke-linejoin="round"/>
<path d="M160.0,81.5 L161.9,78.7 L164.8,78.8 L167.5,78.0 L170.2,78.7 L173.0,79.4 L175.1,81.5 L180.0,82.2 L182.8,82.5 L185.5,82.9 L188.3,83.5 L191.1,83.6 L195.2,82.9 L197.9,81.6 L200.8,80.8 L204.9,79.4 L209.1,80.8 L210.5,84.3 L214.6,85.7 L218.8,87.0 L221.6,87.8 L224.3,89.1 L227.1,89.6 L229.9,89.1 L232.7,88.1 L235.4,87.0 L237.5,85.3 L239.6,83.6 L241.4,81.4 L243.8,80.1 L246.9,78.3 L250.0,76.6 L253.3,76.0 L256.6,75.3 L258.6,73.2 L261.3,72.1 L263.6,70.4 L265.6,68.3 L268.2,67.0 L270.8,67.3 L273.4,67.2 L276.0,67.5 L278.7,67.3 L281.3,67.8 L283.9,67.9 L286.5,67.8 L288.4,65.7 L290.7,64.1 L293.2,62.8 L296.0,61.8 L298.9,61.0 L301.5,59.4 L304.2,58.3 L307.0,57.8 L309.8,57.0 L312.5,56.9 L315.2,56.5 L317.9,56.5" fill="none" stroke="#2f4fc2" stroke-width="1.05" stroke-linejoin="round"/>
<path d="M194.5,84.3 L197.1,85.3 L199.7,86.4 L202.2,87.7 L204.7,90.4 L207.0,93.3" fill="none" stroke="#2f4fc2" stroke-width="1.05" stroke-linejoin="round"/>
<path d="M200.8,80.8 L204.2,78.0 L207.0,78.1 L209.8,78.0" fill="none" stroke="#2f4fc2" stroke-width="1.05" stroke-linejoin="round"/>
<path d="M218.8,85.0 L223.0,82.9" fill="none" stroke="#2f4fc2" stroke-width="1.05" stroke-linejoin="round"/>
<path d="M293.2,62.8 L290.8,61.2 L288.7,59.3 L286.7,57.2 L284.0,56.0 L282.2,53.7 L279.9,52.0" fill="none" stroke="#2f4fc2" stroke-width="1.05" stroke-linejoin="round"/>
<path d="M294.9,59.4 L293.1,57.0 L290.8,55.1 L288.8,53.0 L287.4,50.3 L284.9,48.5 L283.2,46.1" fill="none" stroke="#2f4fc2" stroke-width="1.05" stroke-linejoin="round"/>
<path d="M301.5,58.6 L301.0,55.9 L301.0,53.2 L301.1,50.5 L300.7,47.8" fill="none" stroke="#2f4fc2" stroke-width="1.05" stroke-linejoin="round"/>
<path d="M288.2,66.1 L290.7,67.4 L292.8,69.3 L294.9,71.1 L297.9,71.3 L300.8,72.1 L303.8,72.1 L306.8,72.8 L309.8,72.8 L312.6,73.3 L315.3,74.3 L317.9,75.3" fill="none" stroke="#2f4fc2" stroke-width="1.05" stroke-linejoin="round"/>
<path d="M146.0,97.5 L141.1,100.7 L136.4,101.8 L128.2,104.9 L123.1,106.6 L121.6,109.5 L121.6,115.3 L114.3,115.3 L112.8,113.9 L112.8,109.5 L116.1,106.6 L115.8,104.4 L100.4,104.4 L90.9,105.1 L86.6,105.8 L84.4,107.3 L83.3,114.0 L82.9,116.1 L84.7,119.0 L86.6,121.5 L90.2,121.2 L93.9,121.9 L93.5,124.1 L94.6,127.0 L96.1,129.2 L97.5,131.4 L101.9,132.8 L109.2,133.2 L114.3,133.6 L118.7,134.3 L121.6,132.1 L123.8,129.2 L125.1,127.9 L134.3,128.9 L143.5,128.5 L146.8,129.9 L146.1,133.1 L141.5,137.1 L140.9,141.0 L143.5,146.3 L146.8,151.5 L146.8,156.8 L155.3,155.7 L163.9,155.5 L165.2,157.5 L169.8,156.5 L176.3,154.8 L181.6,148.9 L186.9,142.3 L190.1,133.1 L188.5,126.3 L191.6,121.2 L197.7,123.2 L204.9,121.2 L205.9,115.0 L202.8,110.0 L195.7,106.9 L185.5,104.9 L177.3,100.8 L169.1,98.7 L160.9,98.0 L158.6,96.3 L158.9,91.9 L160.0,89.0 L159.3,85.8 L155.0,85.3 L151.3,86.0 L149.3,83.5 L148.4,81.0 L147.3,78.8 L145.4,78.4 L142.5,79.5 L139.6,81.3 L136.7,83.5 L134.5,86.1 L132.3,89.3 L133.0,90.4 L135.9,91.5 L138.1,92.6 L141.1,93.4 L140.0,94.1 L140.7,95.9 L142.5,95.5 L143.2,93.4 L146.5,93.2 L148.4,95.4 Z" fill="#ebb04c"/>
<path d="M132.3,89.3 L134.5,86.1 L136.7,83.5 L139.6,81.3 L142.5,79.5 L145.4,78.4 L147.3,78.8 L148.4,81.0 L149.3,83.5 L150.5,87.0 L150.8,93.0 L148.5,95.5 L146.5,93.2 L143.2,93.4 L142.5,95.5 L140.7,95.9 L140.0,94.1 L141.1,93.4 L138.1,92.6 L135.9,91.5 L133.0,90.4 Z" fill="#4e9dc6"/>
<path d="M150.5,86.5 L151.3,86.0 L155.0,85.3 L159.3,85.8 L160.0,89.0 L158.9,91.9 L158.6,96.3 L161.5,98.5 L156.0,99.5 L151.0,97.5 L150.8,93.0 Z" fill="#c0da8c"/>
<path d="M88.5,106.0 L100.4,104.9 L115.5,104.9 L115.8,106.6 L112.8,109.5 L112.8,113.9 L114.3,115.3 L121.6,115.3 L121.6,109.5 L124.0,107.5 L130.3,105.5 L142.5,103.4 L156.8,102.4 L171.0,103.4 L179.3,107.5 L183.4,112.0 L186.5,118.1 L187.5,123.5 L188.8,126.3 L190.6,133.1 L187.4,142.3 L182.0,149.2 L176.6,155.2 L170.0,157.0 L168.0,156.7 L164.9,153.9 L156.8,150.8 L148.7,151.9 L142.5,148.8 L141.2,140.6 L144.6,135.5 L146.6,130.4 L140.5,130.4 L130.3,132.4 L122.0,130.4 L116.0,127.3 L108.8,124.3 L103.7,120.2 L99.6,116.1 L94.5,112.0 L89.4,108.9 Z" fill="#ec261c"/>
<path d="M146.0,97.5 L141.1,100.7 L136.4,101.8 L128.2,104.9 L123.1,106.6 L121.6,109.5 L121.6,115.3 L114.3,115.3 L112.8,113.9 L112.8,109.5 L116.1,106.6 L115.8,104.4 L100.4,104.4 L90.9,105.1 L86.6,105.8 L84.4,107.3 L83.3,114.0 L82.9,116.1 L84.7,119.0 L86.6,121.5 L90.2,121.2 L93.9,121.9 L93.5,124.1 L94.6,127.0 L96.1,129.2 L97.5,131.4 L101.9,132.8 L109.2,133.2 L114.3,133.6 L118.7,134.3 L121.6,132.1 L123.8,129.2 L125.1,127.9 L134.3,128.9 L143.5,128.5 L146.8,129.9 L146.1,133.1 L141.5,137.1 L140.9,141.0 L143.5,146.3 L146.8,151.5 L146.8,156.8 L155.3,155.7 L163.9,155.5 L165.2,157.5 L169.8,156.5 L176.3,154.8 L181.6,148.9 L186.9,142.3 L190.1,133.1 L188.5,126.3 L191.6,121.2 L197.7,123.2 L204.9,121.2 L205.9,115.0 L202.8,110.0 L195.7,106.9 L185.5,104.9 L177.3,100.8 L169.1,98.7 L160.9,98.0 L158.6,96.3 L158.9,91.9 L160.0,89.0 L159.3,85.8 L155.0,85.3 L151.3,86.0 L149.3,83.5 L148.4,81.0 L147.3,78.8 L145.4,78.4 L142.5,79.5 L139.6,81.3 L136.7,83.5 L134.5,86.1 L132.3,89.3 L133.0,90.4 L135.9,91.5 L138.1,92.6 L141.1,93.4 L140.0,94.1 L140.7,95.9 L142.5,95.5 L143.2,93.4 L146.5,93.2 L148.4,95.4 Z" fill="none" stroke="#1a1a1a" stroke-width="0.8"/>
<path d="M147.5,80.8 L153.7,80.6 L159.8,80.1 L163.9,79.6" fill="none" stroke="#111" stroke-width="1.6"/>
<path d="M157.5,86 L161,85 L164.5,86.5 L166.5,89.5 L163,91 L160.5,89.5 Z" fill="#111"/>
<path d="M80.5,115.5 L83.3,112.5 L84,116 Z" fill="#111"/></g></g>
<rect x="589.5" y="138" width="84" height="66" fill="#fff"/>
<circle cx="596.6" cy="164.5" r="1.8" fill="#3f8fcf"/>
<circle cx="596.6" cy="179.4" r="1.8" fill="#a6d07a"/>
<circle cx="596.6" cy="194.3" r="1.8" fill="#eba54a"/>
<circle cx="596.6" cy="208.7" r="1.8" fill="#ea2424"/>
<text transform="translate(590.5,150.08) scale(0.1509,0.1389)" font-size="100" font-weight="bold" fill="#111" stroke="#111" stroke-width="1.08" >LSWT (°C)</text>
<text transform="translate(606.9,168.57) scale(0.1402,0.1303)" font-size="100" font-weight="normal" fill="#111" stroke="#111" stroke-width="1.53" >3.9–4.9</text>
<text transform="translate(607.32,183.17) scale(0.1388,0.1258)" font-size="100" font-weight="normal" fill="#111" stroke="#111" stroke-width="1.59" >4.9–5.9</text>
<text transform="translate(606.76,198.24) scale(0.1407,0.1284)" font-size="100" font-weight="normal" fill="#111" stroke="#111" stroke-width="1.56" >5.9–6.9</text>
<text transform="translate(607.03,213.14) scale(0.1416,0.1284)" font-size="100" font-weight="normal" fill="#111" stroke="#111" stroke-width="1.56" >6.9–7.6</text>
<text transform="translate(393.86,56.47) scale(0.2088,0.2111)" font-size="100" font-weight="bold" fill="#111" stroke="#111" stroke-width="0.71" >(b)</text>
<text transform="translate(429.01,13.55) scale(0.1726,0.1735)" font-size="100" font-weight="normal" fill="#111" stroke="#111" stroke-width="1.15" >88°40&#39;E</text>
<text transform="translate(531.51,13.55) scale(0.1729,0.1735)" font-size="100" font-weight="normal" fill="#111" stroke="#111" stroke-width="1.15" >89°20&#39;E</text>
<text transform="translate(638.09,13.55) scale(0.1709,0.1735)" font-size="100" font-weight="normal" fill="#111" stroke="#111" stroke-width="1.15" >90°0&#39;E</text>
<g transform="translate(355,0)"><text transform="translate(13.65,113.57) rotate(-90) scale(0.1744,0.1765)" font-size="100" font-weight="normal" fill="#111" stroke="#111" stroke-width="1.13" >32°0&#39;N</text><text transform="translate(13.65,217.83) rotate(-90) scale(0.1653,0.1765)" font-size="100" font-weight="normal" fill="#111" stroke="#111" stroke-width="1.13" >31°20&#39;N</text></g>
<g transform="translate(355.0,0)"><rect x="27.85" y="27.9" width="290.05" height="192.85" fill="none" stroke="#000" stroke-width="1.6"/>
<line x1="100.9" y1="27.9" x2="100.9" y2="23.4" stroke="#000" stroke-width="1.8"/>
<line x1="100.9" y1="220.75" x2="100.9" y2="225.25" stroke="#000" stroke-width="1.8"/>
<line x1="203.4" y1="27.9" x2="203.4" y2="23.4" stroke="#000" stroke-width="1.8"/>
<line x1="203.4" y1="220.75" x2="203.4" y2="225.25" stroke="#000" stroke-width="1.8"/>
<line x1="305.6" y1="27.9" x2="305.6" y2="23.4" stroke="#000" stroke-width="1.8"/>
<line x1="305.6" y1="220.75" x2="305.6" y2="225.25" stroke="#000" stroke-width="1.8"/>
<line x1="27.85" y1="88.2" x2="23.35" y2="88.2" stroke="#000" stroke-width="1.8"/>
<line x1="317.9" y1="88.2" x2="322.4" y2="88.2" stroke="#000" stroke-width="1.8"/>
<line x1="27.85" y1="190.6" x2="23.35" y2="190.6" stroke="#000" stroke-width="1.8"/>
<line x1="317.9" y1="190.6" x2="322.4" y2="190.6" stroke="#000" stroke-width="1.8"/></g>
<path d="M54.8,337.8 L52.0,343.5 L46.3,348.2 L41.6,351.0 L44.5,352.9 L52.0,354.8 L55.8,358.6 L49.2,362.4 L48.2,366.2 L51.1,368.1 L50.1,375.6 L53.9,383.2 L57.7,387.0 L63.4,390.7 L72.5,399.5 L86.7,399.0 L98.7,401.5 L104.9,403.8 L109.9,402.5 L116.1,399.0 L124.8,396.0 L132.0,395.5 L140.0,395.0 L150.0,395.0 L160.0,395.5 L167.0,396.0 L169.4,397.0 L173.5,404.0 L170.0,407.5 L164.7,410.0 L158.6,412.6 L154.2,416.5 L152.0,422.3 L152.6,427.6 L155.8,433.0 L161.5,436.8 L168.6,438.3 L177.9,438.9 L184.5,439.6 L191.5,441.4 L183.8,443.9 L176.2,445.2 L165.9,445.2 L160.8,447.8 L158.2,451.6 L159.5,456.7 L153.1,455.4 L149.3,458.0 L144.2,460.6 L139.1,461.8 L136.5,465.7 L140.3,468.2 L148.0,469.5 L153.1,470.8 L160.8,468.2 L165.9,465.7 L176.2,467.0 L186.4,469.5 L194.0,470.8 L201.7,468.2 L207.0,466.0 L216.9,464.3 L229.2,459.4 L241.5,452.0 L251.3,443.4 L258.7,433.6 L264.8,421.3 L267.3,409.0 L269.7,399.2 L275.9,398.0 L285.7,395.5 L294.3,385.7 L295.6,374.6 L291.9,363.5 L280.8,358.6 L273.5,357.9 L260.3,351.3 L249.7,342.1 L241.8,332.8 L231.2,326.2 L224.6,318.2 L225.9,309.0 L228.5,303.7 L225.9,294.4 L231.2,293.1 L241.8,295.7 L244.4,293.1 L233.8,289.1 L228.5,283.8 L229.8,278.5 L233.8,279.9 L237.8,275.9 L233.8,270.6 L225.9,266.6 L215.3,270.6 L207.3,278.5 L196.8,285.1 L184.8,286.5 L172.9,294.4 L161.0,302.4 L158.4,307.6 L162.4,314.3 L170.3,319.6 L180.9,323.5 L188.8,324.8 L172.9,331.5 L170.0,333.6 L163.6,335.9 L156.8,337.0 L149.9,337.6 L145.4,339.9 L139.7,340.4 L134.0,341.6 L129.5,346.1 L128.4,351.8 L129.5,357.5 L132.9,360.9 L131.8,362.0 L126.1,363.1 L119.3,362.6 L112.5,360.9 L111.3,357.5 L114.8,352.9 L113.1,349.5 L111.9,345.5 L115.9,343.8 L122.1,342.7 L123.3,338.2 L120.4,334.8 L111.3,334.2 L97.4,334.0 L84.1,333.1 L69.0,332.1 L59.6,333.1 Z" fill="#ade0ad"/>
<path d="M48.0,350.7 L52.7,351.9 L53.0,352.0 L53.3,352.1 L53.6,352.3 L53.9,352.5 L54.1,352.7 L57.9,356.5 L58.1,356.7 L58.3,356.9 L58.4,357.2 L58.6,357.4 L58.7,357.7 L58.7,358.0 L58.8,358.3 L58.8,358.6 L58.8,358.8 L58.8,359.1 L58.7,359.4 L58.6,359.7 L58.5,360.0 L58.3,360.2 L58.2,360.4 L58.0,360.7 L57.8,360.9 L57.5,361.0 L57.3,361.2 L51.8,364.4 L51.7,364.9 L52.7,365.6 L53.0,365.8 L53.2,366.0 L53.4,366.2 L53.6,366.5 L53.8,366.7 L53.9,367.0 L54.0,367.3 L54.1,367.6 L54.1,367.9 L54.1,368.2 L54.1,368.5 L53.2,375.1 L56.4,381.4 L59.6,384.7 L65.0,388.2 L65.3,388.4 L65.5,388.5 L73.7,396.5 L86.6,396.0 L87.0,396.0 L87.3,396.1 L99.3,398.6 L99.5,398.6 L99.7,398.7 L105.1,400.7 L108.8,399.7 L114.6,396.4 L114.9,396.3 L115.1,396.2 L123.8,393.2 L124.1,393.1 L124.3,393.0 L124.6,393.0 L131.8,392.5 L131.8,392.5 L139.8,392.0 L140.0,392.0 L150.0,392.0 L150.1,392.0 L160.1,392.5 L160.2,392.5 L167.2,393.0 L167.5,393.0 L167.8,393.1 L168.2,393.2 L170.6,394.2 L170.8,394.3 L171.0,394.5 L171.3,394.7 L171.5,394.8 L171.7,395.0 L171.8,395.3 L172.0,395.5 L176.1,402.5 L176.2,402.8 L176.3,403.0 L176.4,403.3 L176.5,403.6 L176.5,403.9 L176.5,404.2 L176.5,404.5 L176.4,404.8 L176.3,405.1 L176.2,405.4 L176.0,405.7 L175.8,405.9 L175.6,406.1 L172.1,409.6 L171.9,409.8 L171.7,410.0 L171.5,410.1 L171.3,410.2 L166.0,412.7 L165.9,412.8 L160.2,415.2 L156.7,418.3 L155.1,422.7 L155.5,426.6 L158.0,430.9 L162.7,434.0 L169.0,435.3 L178.1,435.9 L178.2,435.9 L184.8,436.6 L185.2,436.7 L192.2,438.5 L192.5,438.6 L192.8,438.7 L193.1,438.8 L193.3,439.0 L193.5,439.2 L193.7,439.4 L193.9,439.6 L194.1,439.9 L194.2,440.2 L194.3,440.4 L194.4,440.7 L194.5,441.0 L194.5,441.3 L194.5,441.6 L194.5,441.9 L194.4,442.2 L194.3,442.5 L194.2,442.7 L194.0,443.0 L193.9,443.2 L193.7,443.5 L193.5,443.7 L193.2,443.9 L193.0,444.0 L192.7,444.1 L192.4,444.3 L184.7,446.8 L184.3,446.9 L176.7,448.2 L176.5,448.2 L176.2,448.2 L166.6,448.2 L162.8,450.1 L161.4,452.2 L162.4,456.0 L162.5,456.2 L162.5,456.5 L162.5,456.8 L162.5,457.1 L162.4,457.4 L162.3,457.7 L162.2,457.9 L162.1,458.2 L161.9,458.4 L161.8,458.7 L161.6,458.9 L161.4,459.1 L161.1,459.2 L160.9,459.4 L160.6,459.5 L160.3,459.6 L160.1,459.6 L159.8,459.7 L159.5,459.7 L159.2,459.7 L158.9,459.6 L153.7,458.6 L151.0,460.5 L150.7,460.7 L145.6,463.3 L145.2,463.4 L144.9,463.5 L140.9,464.4 L140.7,464.9 L141.4,465.3 L148.5,466.5 L148.7,466.6 L153.0,467.7 L159.7,465.4 L164.6,463.0 L164.8,462.9 L165.1,462.8 L165.4,462.7 L165.7,462.7 L166.0,462.7 L166.3,462.7 L176.6,464.0 L176.9,464.1 L187.0,466.6 L193.8,467.7 L200.6,465.4 L205.8,463.2 L206.2,463.1 L206.5,463.0 L216.1,461.4 L227.9,456.7 L239.7,449.6 L249.1,441.3 L256.1,432.0 L261.9,420.3 L264.4,408.4 L264.4,408.3 L266.8,398.5 L266.9,398.2 L267.0,397.9 L267.1,397.7 L267.3,397.5 L267.4,397.2 L267.6,397.0 L267.8,396.8 L268.1,396.7 L268.3,396.5 L268.6,396.4 L268.9,396.3 L269.1,396.3 L275.2,395.1 L284.1,392.8 L291.4,384.4 L292.5,374.9 L289.5,365.7 L280.0,361.5 L273.2,360.9 L272.9,360.8 L272.7,360.8 L272.4,360.7 L272.2,360.6 L259.0,354.0 L258.7,353.9 L258.5,353.7 L258.3,353.6 L247.7,344.4 L247.6,344.2 L247.4,344.0 L239.8,335.1 L229.6,328.7 L229.3,328.6 L229.1,328.3 L228.9,328.1 L222.3,320.1 L222.1,319.9 L221.9,319.6 L221.8,319.3 L221.7,319.0 L221.6,318.7 L221.6,318.4 L221.6,318.1 L221.6,317.8 L222.9,308.6 L223.0,308.3 L223.1,308.0 L223.2,307.7 L225.3,303.4 L223.0,295.2 L222.9,294.9 L222.9,294.6 L222.9,294.3 L222.9,294.0 L223.0,293.7 L223.1,293.4 L223.2,293.2 L223.3,292.9 L223.5,292.6 L223.7,292.4 L223.9,292.2 L224.1,292.0 L224.4,291.8 L224.6,291.7 L224.9,291.6 L225.2,291.5 L230.5,290.2 L230.6,290.2 L226.4,285.9 L226.2,285.7 L226.0,285.4 L225.8,285.2 L225.7,284.9 L225.6,284.6 L225.5,284.3 L225.5,284.0 L225.5,283.7 L225.5,283.4 L225.6,283.1 L226.9,277.8 L227.0,277.5 L227.1,277.2 L227.2,277.0 L227.4,276.7 L227.6,276.5 L227.8,276.3 L228.0,276.1 L228.2,275.9 L228.5,275.8 L228.8,275.7 L229.1,275.6 L229.3,275.5 L229.6,275.5 L229.9,275.5 L230.2,275.5 L230.5,275.6 L230.8,275.7 L233.0,276.4 L233.8,275.6 L231.8,273.0 L225.7,269.9 L217.0,273.2 L209.4,280.6 L209.2,280.9 L208.9,281.0 L198.4,287.6 L198.2,287.8 L197.9,287.9 L197.7,288.0 L197.4,288.0 L197.1,288.1 L185.9,289.4 L174.6,296.9 L163.3,304.4 L161.8,307.5 L164.6,312.2 L171.7,316.9 L181.7,320.6 L189.3,321.8 L189.6,321.9 L189.9,322.0 L190.1,322.1 L190.4,322.3 L190.6,322.4 L190.9,322.6 L191.1,322.8 L191.3,323.1 L191.4,323.3 L191.5,323.6 L191.7,323.9 L191.7,324.2 L191.8,324.4 L191.8,324.7 L191.8,325.0 L191.8,325.3 L191.7,325.6 L191.6,325.9 L191.5,326.2 L191.3,326.4 L191.1,326.7 L190.9,326.9 L190.7,327.1 L190.5,327.3 L190.2,327.4 L190.0,327.6 L174.4,334.1 L171.8,336.0 L171.5,336.2 L171.3,336.3 L171.0,336.4 L164.6,338.7 L164.4,338.8 L164.1,338.9 L157.3,340.0 L157.1,340.0 L150.7,340.5 L146.8,342.6 L146.5,342.7 L146.2,342.8 L145.9,342.8 L145.7,342.9 L140.1,343.4 L135.5,344.4 L132.3,347.6 L131.5,351.8 L132.3,356.0 L135.0,358.8 L135.2,359.0 L135.4,359.2 L135.5,359.5 L135.7,359.8 L135.8,360.0 L135.8,360.3 L135.9,360.6 L135.9,360.9 L135.9,361.2 L135.8,361.5 L135.8,361.8 L135.7,362.0 L135.5,362.3 L135.4,362.6 L135.2,362.8 L135.0,363.0 L133.9,364.1 L133.7,364.3 L133.5,364.5 L133.2,364.6 L132.9,364.8 L132.7,364.9 L132.4,364.9 L126.7,366.0 L126.4,366.1 L126.1,366.1 L125.9,366.1 L119.1,365.6 L118.8,365.6 L118.6,365.5 L111.8,363.8 L111.5,363.7 L111.2,363.6 L111.0,363.5 L110.7,363.3 L110.5,363.1 L110.3,362.9 L110.1,362.7 L109.9,362.4 L109.8,362.2 L109.7,361.9 L108.5,358.5 L108.4,358.2 L108.3,357.9 L108.3,357.6 L108.3,357.3 L108.3,357.0 L108.4,356.7 L108.5,356.5 L108.6,356.2 L108.7,355.9 L108.9,355.7 L111.3,352.6 L110.4,350.8 L110.3,350.6 L110.2,350.4 L109.0,346.4 L109.0,346.1 L108.9,345.8 L108.9,345.5 L108.9,345.2 L109.0,344.9 L109.0,344.6 L109.1,344.4 L109.2,344.1 L109.4,343.8 L109.6,343.6 L109.8,343.4 L110.0,343.2 L110.2,343.0 L110.5,342.9 L110.7,342.7 L114.7,341.0 L115.0,340.9 L115.4,340.8 L119.7,340.1 L120.0,338.9 L118.9,337.7 L111.2,337.2 L97.4,337.0 L97.2,337.0 L83.9,336.1 L69.1,335.1 L61.0,336.0 L57.3,339.6 L54.7,344.8 L54.5,345.1 L54.4,345.4 L54.1,345.6 L53.9,345.8 L48.2,350.5 L48.0,350.7 Z" fill="#8ad28e"/>
<path d="M54.7,349.4 L55.2,349.8 L55.8,350.1 L56.2,350.6 L60.0,354.4 L60.4,354.8 L60.8,355.3 L61.1,355.7 L61.3,356.3 L61.5,356.8 L61.7,357.4 L61.8,357.9 L61.8,358.5 L61.8,359.1 L61.7,359.7 L61.6,360.2 L61.4,360.8 L61.2,361.3 L60.9,361.8 L60.5,362.3 L60.2,362.7 L59.7,363.1 L59.3,363.5 L58.8,363.8 L56.4,365.2 L56.4,365.3 L56.7,365.9 L56.9,366.5 L57.0,367.1 L57.1,367.7 L57.1,368.3 L57.0,368.9 L56.3,374.6 L58.8,379.6 L61.5,382.3 L66.7,385.7 L67.1,386.0 L67.6,386.4 L74.8,393.4 L86.5,393.0 L87.2,393.0 L87.9,393.1 L99.9,395.6 L100.4,395.7 L100.8,395.9 L105.2,397.5 L107.5,396.9 L106.0,372.0 L106.8,362.7 L105.6,359.5 L105.5,358.9 L105.4,358.3 L105.3,357.8 L105.3,357.2 L105.4,356.6 L105.5,356.0 L105.7,355.4 L105.9,354.9 L106.2,354.4 L106.5,353.9 L107.8,352.2 L107.7,352.2 L107.5,351.7 L107.4,351.2 L106.2,347.2 L106.0,346.7 L105.9,346.1 L105.9,345.5 L105.9,344.9 L106.0,344.3 L106.2,343.8 L106.4,343.2 L106.6,342.7 L106.9,342.2 L107.2,341.7 L107.6,341.3 L108.1,340.9 L108.5,340.5 L109.0,340.2 L109.2,340.2 L97.3,340.0 L97.0,340.0 L83.7,339.1 L69.1,338.1 L62.3,338.8 L59.7,341.4 L57.4,346.1 L57.1,346.7 L56.7,347.2 L56.3,347.7 L55.8,348.1 L54.4,349.3 Z M237.8,337.4 L228.0,331.3 L227.5,330.9 L227.0,330.5 L226.6,330.0 L220.0,322.0 L219.6,321.5 L219.3,321.0 L219.0,320.4 L218.8,319.8 L218.7,319.2 L218.6,318.6 L218.6,318.0 L218.7,317.4 L220.0,308.2 L220.1,307.5 L220.3,306.9 L220.5,306.4 L222.1,303.1 L220.1,296.0 L220.0,295.4 L219.9,294.8 L219.9,294.2 L219.9,293.6 L220.1,293.0 L220.2,292.5 L220.4,291.9 L220.7,291.4 L221.0,290.9 L221.4,290.4 L221.8,290.0 L222.3,289.6 L222.8,289.3 L223.3,289.0 L223.9,288.7 L224.5,288.6 L224.7,288.5 L224.3,288.0 L223.8,287.6 L223.5,287.1 L223.2,286.6 L222.9,286.0 L222.7,285.4 L222.6,284.8 L222.5,284.2 L222.5,283.6 L222.6,283.0 L222.7,282.4 L224.0,277.1 L224.1,276.5 L224.4,276.0 L224.6,275.4 L225.0,275.0 L225.3,274.5 L225.7,274.1 L226.2,273.7 L226.4,273.6 L225.5,273.1 L218.6,275.8 L211.5,282.8 L211.0,283.2 L210.5,283.6 L200.0,290.2 L199.5,290.4 L199.0,290.7 L198.5,290.8 L198.0,291.0 L197.5,291.1 L186.9,292.3 L176.2,299.4 L165.7,306.5 L165.2,307.3 L166.9,310.1 L173.0,314.2 L182.4,317.7 L189.8,318.9 L190.4,319.0 L190.9,319.2 L191.5,319.4 L192.0,319.7 L192.5,320.1 L192.9,320.4 L193.3,320.9 L193.7,321.3 L194.0,321.8 L194.3,322.4 L194.5,322.9 L194.7,323.5 L194.8,324.1 L194.8,324.7 L194.8,325.3 L194.7,325.9 L194.6,326.5 L194.4,327.0 L194.1,327.6 L193.8,328.1 L193.5,328.6 L193.1,329.0 L192.6,329.4 L192.2,329.8 L191.7,330.1 L191.1,330.3 L175.9,336.8 L173.5,338.5 L173.0,338.8 L172.5,339.0 L172.0,339.2 L169.1,340.3 L170.0,340.0 L190.0,334.0 L198.0,322.0 L206.0,334.0 L235.0,340.0 L239.6,339.5 Z M157.8,342.9 L157.3,343.0 L151.6,343.5 L149.3,344.6 L152.0,346.0 L164.5,341.8 Z" fill="#9cd99c"/>
<path d="M107.6,396.9 L113.2,393.8 L113.6,393.5 L114.1,393.3 L122.8,390.3 L123.3,390.2 L123.9,390.1 L124.4,390.0 L131.6,389.5 L131.6,389.5 L139.6,389.0 L140.0,389.0 L150.0,389.0 L150.3,389.0 L160.3,389.5 L160.4,389.5 L167.4,390.0 L168.1,390.1 L168.7,390.2 L169.3,390.5 L171.7,391.5 L172.2,391.7 L172.7,392.0 L173.1,392.3 L173.6,392.7 L173.9,393.1 L174.3,393.5 L174.6,394.0 L178.7,401.0 L179.0,401.5 L179.2,402.1 L179.3,402.7 L179.5,403.3 L179.5,403.9 L179.5,404.5 L179.4,405.1 L179.3,405.7 L179.1,406.2 L178.8,406.8 L178.5,407.3 L178.1,407.8 L177.7,408.2 L174.2,411.7 L173.9,412.1 L173.5,412.4 L173.0,412.7 L172.6,412.9 L167.3,415.4 L167.1,415.5 L161.8,417.7 L159.3,420.0 L158.1,423.1 L158.4,425.6 L160.3,428.8 L163.9,431.2 L169.4,432.3 L178.3,432.9 L178.5,432.9 L185.1,433.6 L186.0,433.8 L193.0,435.6 L193.6,435.8 L194.1,436.0 L194.6,436.3 L195.1,436.6 L195.6,437.0 L196.0,437.4 L196.4,437.9 L196.7,438.4 L197.0,438.9 L197.2,439.5 L197.3,440.0 L197.4,440.6 L197.5,441.2 L197.5,441.8 L197.4,442.4 L197.3,443.0 L197.1,443.5 L196.9,444.1 L196.6,444.6 L196.2,445.1 L195.8,445.5 L195.4,445.9 L194.9,446.3 L194.4,446.6 L193.9,446.9 L193.4,447.1 L185.7,449.6 L184.8,449.8 L177.2,451.1 L176.7,451.2 L176.2,451.2 L167.3,451.2 L164.9,452.5 L164.7,452.7 L165.3,455.2 L165.4,455.8 L165.5,456.4 L165.5,456.9 L165.4,457.5 L165.3,458.1 L165.2,458.6 L165.0,459.2 L164.7,459.7 L164.6,459.8 L164.9,459.8 L165.5,459.7 L166.1,459.7 L166.7,459.7 L177.0,461.0 L177.6,461.2 L187.6,463.6 L193.5,464.6 L199.6,462.6 L204.7,460.5 L205.3,460.2 L206.0,460.1 L215.3,458.5 L226.5,454.0 L237.9,447.1 L246.9,439.3 L253.6,430.4 L259.1,419.3 L261.4,407.8 L261.5,407.6 L263.9,397.8 L264.0,397.2 L264.2,396.7 L264.5,396.2 L264.8,395.7 L265.2,395.3 L265.6,394.9 L266.0,394.5 L266.5,394.2 L267.0,393.9 L267.5,393.6 L268.0,393.4 L268.6,393.3 L274.6,392.1 L282.4,390.1 L288.6,383.1 L289.5,375.2 L287.0,367.9 L279.3,364.5 L272.9,363.9 L272.4,363.8 L271.8,363.7 L271.3,363.5 L270.8,363.3 L257.6,356.7 L257.2,356.4 L256.8,356.1 L256.4,355.8 L245.8,346.6 L245.4,346.3 L245.1,346.0 L239.6,339.5 L235.0,340.0 L206.0,334.0 L198.0,322.0 L190.0,334.0 L170.0,340.0 L169.1,340.3 L165.6,341.5 L165.1,341.7 L164.6,341.8 L164.5,341.8 L152.0,346.0 L149.3,344.6 L148.1,345.2 L147.6,345.5 L147.1,345.7 L146.5,345.8 L145.9,345.9 L140.6,346.3 L137.0,347.1 L135.0,349.0 L134.5,351.8 L135.0,354.6 L137.1,356.7 L137.5,357.1 L137.9,357.6 L138.2,358.1 L138.4,358.6 L138.6,359.2 L138.8,359.7 L138.9,360.3 L138.9,360.9 L138.9,361.5 L138.8,362.1 L138.6,362.6 L138.4,363.2 L138.2,363.7 L137.9,364.2 L137.5,364.7 L137.1,365.1 L136.0,366.2 L135.6,366.6 L135.1,367.0 L134.6,367.3 L134.1,367.6 L133.5,367.7 L132.9,367.9 L127.2,369.0 L126.7,369.1 L126.2,369.1 L125.7,369.1 L118.9,368.6 L118.3,368.5 L117.8,368.4 L111.0,366.7 L110.5,366.5 L109.9,366.3 L109.4,366.0 L108.9,365.7 L108.5,365.3 L108.0,364.9 L107.7,364.5 L107.3,364.0 L107.1,363.4 L106.8,362.9 L106.8,362.7 L106.0,372.0 L107.5,396.9 Z M158.3,462.6 L154.4,461.8 L152.7,463.0 L152.0,463.3 L150.7,464.0 L152.9,464.5 L158.5,462.6 L158.6,462.6 Z" fill="#c4dc6c"/>
<path d="M181.0,297.0 L184.0,312.0 L188.1,319.6 L189.6,319.9 L190.1,320.0 L190.6,320.1 L191.0,320.3 L191.5,320.6 L191.9,320.8 L192.2,321.2 L192.6,321.5 L192.9,321.9 L193.2,322.3 L193.4,322.8 L193.6,323.2 L193.7,323.7 L193.8,324.2 L193.8,324.7 L193.8,325.2 L193.7,325.7 L193.6,326.2 L193.4,326.6 L193.2,327.1 L193.0,327.5 L192.7,327.9 L192.4,328.3 L192.0,328.6 L191.6,328.9 L191.2,329.2 L190.7,329.4 L190.3,329.6 L189.0,338.0 L207.0,338.0 L202.0,318.0 L201.0,305.0 L196.0,293.0 L189.8,290.9 L186.6,291.3 L184.9,292.4 Z" fill="#c6d872"/>
<path d="M184.2,297.8 L186.9,311.0 L190.0,316.9 L190.1,316.9 L190.2,316.9 L190.7,317.0 L191.0,317.1 L191.5,317.3 L191.8,317.4 L192.2,317.6 L192.5,317.7 L192.9,317.9 L193.2,318.1 L193.6,318.4 L193.8,318.6 L194.2,318.9 L194.4,319.1 L194.8,319.5 L194.9,319.7 L195.3,320.1 L195.4,320.3 L195.7,320.7 L195.8,321.0 L196.1,321.4 L196.2,321.7 L196.4,322.2 L196.4,322.5 L196.6,322.9 L196.6,323.2 L196.7,323.7 L196.8,324.0 L196.8,324.5 L196.8,324.8 L196.8,325.3 L196.8,325.6 L196.7,326.1 L196.6,326.4 L196.5,326.9 L196.4,327.1 L196.3,327.6 L196.2,327.9 L196.0,328.3 L195.8,328.6 L195.6,329.0 L195.4,329.3 L195.1,329.7 L194.9,329.9 L194.6,330.3 L194.4,330.5 L194.0,330.8 L193.8,331.0 L193.4,331.3 L193.2,331.5 L193.0,331.6 L192.5,335.0 L203.2,335.0 L199.1,318.7 L199.0,318.5 L199.0,318.2 L198.0,305.7 L193.8,295.4 L189.5,294.0 L187.6,294.2 L186.9,294.7 Z" fill="#dccf58"/>
<path d="M124.1,393.1 L124.3,393.0 L124.6,393.0 L131.8,392.5 L131.8,392.5 L139.8,392.0 L140.0,392.0 L150.0,392.0 L150.0,386.0 L150.4,386.0 L160.4,386.5 L160.6,386.5 L167.6,387.0 L168.6,387.1 L169.5,387.4 L170.5,387.7 L172.9,388.7 L173.6,389.0 L174.3,389.5 L175.0,390.0 L175.6,390.5 L176.2,391.1 L176.7,391.8 L177.2,392.5 L181.3,399.5 L181.7,400.3 L182.0,401.1 L182.3,402.0 L182.4,402.9 L182.5,403.8 L182.5,404.7 L182.4,405.6 L182.2,406.5 L181.9,407.3 L181.5,408.2 L181.0,409.0 L180.5,409.7 L179.9,410.4 L177.6,412.7 L179.8,417.1 L179.9,417.3 L179.9,417.5 L180.0,417.6 L180.0,417.8 L180.0,418.0 L180.0,430.0 L180.0,430.1 L185.4,430.7 L186.7,430.9 L193.7,432.7 L194.6,432.9 L195.4,433.3 L196.2,433.7 L196.9,434.2 L197.6,434.8 L198.2,435.4 L198.8,436.1 L199.3,436.9 L199.7,437.7 L200.0,438.5 L200.3,439.4 L200.4,440.2 L200.5,441.1 L200.5,442.0 L200.4,442.9 L200.2,443.8 L199.9,444.6 L199.5,445.4 L199.1,446.2 L198.6,446.9 L198.0,447.6 L197.4,448.2 L196.7,448.8 L195.9,449.2 L195.1,449.6 L194.3,450.0 L186.6,452.5 L185.3,452.8 L177.7,454.1 L177.0,454.2 L176.2,454.2 L168.2,454.2 L168.2,454.5 L168.4,455.3 L168.5,456.2 L168.5,457.0 L177.3,458.1 L178.3,458.3 L188.2,460.7 L193.3,461.5 L198.5,459.8 L203.5,457.7 L204.5,457.4 L205.5,457.1 L214.4,455.6 L225.2,451.3 L236.2,444.7 L244.7,437.2 L251.0,428.8 L256.2,418.4 L258.5,407.2 L258.6,406.9 L261.0,397.1 L261.2,396.2 L261.5,395.4 L261.9,394.7 L262.4,394.0 L262.9,393.3 L263.5,392.7 L264.1,392.1 L264.8,391.6 L265.6,391.2 L266.4,390.8 L267.2,390.6 L268.0,390.4 L273.9,389.2 L280.8,387.5 L285.7,381.9 L286.4,375.5 L284.6,370.1 L278.5,367.4 L272.6,366.9 L271.8,366.7 L271.0,366.6 L270.2,366.3 L269.5,365.9 L261.6,362.0 L268.3,362.0 L257.6,356.7 L257.2,356.4 L256.8,356.1 L256.4,355.8 L245.8,346.6 L245.4,346.3 L245.1,346.0 L239.6,339.5 L235.0,340.0 L206.0,334.0 L200.0,325.0 L198.0,321.0 L196.0,325.0 L190.0,334.0 L170.0,340.0 L169.1,340.3 L165.6,341.5 L165.1,341.7 L164.6,341.8 L164.5,341.8 L152.0,346.0 L149.3,344.6 L148.1,345.2 L147.6,345.5 L147.1,345.7 L146.5,345.8 L145.9,345.9 L140.6,346.3 L137.0,347.1 L135.0,349.0 L134.5,351.8 L134.5,352.0 L131.5,352.0 L132.3,356.0 L135.0,358.8 L135.2,359.0 L135.4,359.2 L135.5,359.5 L135.7,359.8 L135.8,360.0 L135.8,360.3 L135.9,360.6 L135.9,360.9 L135.9,361.2 L135.8,361.5 L135.8,361.8 L135.7,362.0 L135.5,362.3 L135.4,362.6 L135.2,362.8 L135.0,363.0 L133.9,364.1 L133.7,364.3 L133.5,364.5 L133.2,364.6 L132.9,364.8 L132.7,364.9 L132.4,364.9 L126.7,366.0 L126.4,366.1 L126.1,366.1 L125.9,366.1 L119.1,365.6 L118.8,365.6 L118.6,365.5 L111.8,363.8 L111.5,363.7 L111.2,363.6 L111.0,363.5 L110.7,363.3 L110.5,363.1 L110.3,362.9 L110.1,362.7 L109.9,362.4 L109.8,362.2 L109.7,361.9 L108.5,358.5 L108.4,358.2 L108.3,357.9 L108.3,357.6 L108.3,357.3 L108.3,357.0 L108.4,356.7 L108.5,356.5 L108.6,356.2 L108.7,355.9 L108.9,355.7 L111.3,352.6 L111.0,352.0 L109.1,352.0 L107.0,360.0 L106.0,372.0 L107.7,400.0 L108.8,399.7 L114.6,396.4 L114.9,396.3 L115.1,396.2 L123.8,393.2 Z" fill="#ecd048"/>
<path d="M193.4,306.9 L193.4,306.6 L193.3,306.3 L193.3,306.0 L193.2,305.7 L193.0,305.4 L192.9,305.1 L192.7,304.9 L192.5,304.6 L192.2,304.4 L192.0,304.2 L191.7,304.1 L191.4,303.9 L191.1,303.8 L190.8,303.8 L190.5,303.7 L190.2,303.7 L189.9,303.7 L189.6,303.8 L189.3,303.8 L189.0,303.9 L188.7,304.1 L188.4,304.2 L188.2,304.4 L187.9,304.6 L187.7,304.9 L187.5,305.1 L187.4,305.4 L187.2,305.7 L187.1,306.0 L187.1,306.3 L187.0,306.6 L187.0,306.9 L187.0,307.2 L187.1,307.5 L187.1,307.8 L187.2,308.1 L187.4,308.4 L187.5,308.7 L187.7,308.9 L187.9,309.2 L188.2,309.4 L188.4,309.6 L188.7,309.7 L189.0,309.9 L189.3,310.0 L189.6,310.0 L189.9,310.1 L190.2,310.1 L190.5,310.1 L190.8,310.0 L191.1,310.0 L191.4,309.9 L191.7,309.7 L192.0,309.6 L192.2,309.4 L192.5,309.2 L192.7,308.9 L192.9,308.7 L193.0,308.4 L193.2,308.1 L193.3,307.8 L193.3,307.5 L193.4,307.2 Z" fill="#e8cc48" stroke="#333" stroke-width="0.6"/>
<path d="M258.3,360.9 L256.1,359.8 L255.9,359.7 L255.5,359.5 L255.2,359.3 L254.8,359.1 L254.6,358.9 L254.2,358.6 L254.1,358.5 L243.5,349.3 L243.4,349.2 L243.0,348.9 L242.9,348.7 L242.5,348.3 L242.5,348.3 L238.1,343.2 L235.4,343.5 L235.0,343.5 L234.7,343.5 L234.3,343.4 L205.3,337.4 L205.0,337.3 L204.6,337.2 L204.3,337.1 L204.0,336.9 L203.8,336.7 L203.5,336.5 L203.3,336.2 L203.1,335.9 L198.0,328.3 L192.9,335.9 L192.7,336.2 L192.5,336.5 L192.2,336.7 L191.9,336.9 L191.6,337.1 L191.3,337.2 L191.0,337.4 L171.1,343.3 L170.2,343.6 L166.8,344.8 L166.7,344.9 L166.1,345.1 L165.8,345.1 L165.4,345.2 L153.1,349.3 L152.8,349.4 L152.4,349.5 L152.1,349.5 L151.8,349.5 L151.4,349.5 L151.1,349.4 L150.7,349.3 L150.4,349.1 L149.3,348.6 L149.0,348.7 L148.7,348.8 L148.2,349.0 L147.9,349.1 L147.3,349.2 L147.0,349.3 L146.4,349.3 L146.2,349.4 L141.1,349.8 L138.7,350.3 L138.3,350.8 L138.0,352.0 L138.0,352.0 L137.0,352.0 L137.0,352.0 L137.0,352.3 L137.0,352.5 L136.9,352.7 L136.9,353.0 L136.7,353.2 L136.6,353.4 L136.5,353.6 L136.3,353.8 L136.1,353.9 L135.9,354.1 L135.7,354.2 L135.5,354.3 L135.3,354.4 L135.0,354.5 L134.8,354.5 L134.5,354.5 L134.5,354.5 L134.6,354.8 L136.8,357.0 L136.9,357.1 L137.1,357.3 L137.2,357.5 L137.4,357.7 L137.5,357.9 L137.7,358.2 L137.8,358.4 L137.9,358.7 L138.0,358.9 L138.1,359.2 L138.2,359.4 L138.3,359.7 L138.3,359.9 L138.4,360.2 L138.4,360.5 L138.4,360.8 L138.4,361.0 L138.4,361.3 L138.4,361.6 L138.3,361.9 L138.3,362.1 L138.2,362.4 L138.1,362.6 L138.0,362.9 L137.9,363.1 L137.8,363.4 L137.7,363.6 L137.5,363.9 L137.4,364.1 L137.2,364.3 L137.1,364.5 L136.9,364.7 L136.8,364.8 L135.7,365.9 L135.6,366.0 L135.4,366.2 L135.2,366.3 L134.9,366.5 L134.7,366.6 L134.5,366.8 L134.3,366.9 L134.0,367.0 L133.8,367.1 L133.5,367.2 L133.3,367.3 L133.0,367.4 L132.8,367.4 L127.1,368.5 L127.0,368.5 L126.8,368.6 L126.6,368.6 L126.3,368.6 L126.1,368.6 L125.8,368.6 L125.7,368.6 L118.9,368.1 L118.8,368.1 L118.5,368.0 L118.3,368.0 L118.1,368.0 L118.0,367.9 L111.2,366.2 L111.0,366.2 L110.8,366.1 L110.5,366.0 L110.3,365.9 L110.0,365.8 L109.8,365.7 L109.6,365.5 L109.3,365.4 L109.1,365.2 L109.1,365.2 L108.5,372.0 L110.0,396.1 L113.4,394.2 L113.5,394.2 L113.7,394.0 L113.9,393.9 L114.2,393.8 L114.3,393.8 L123.0,390.8 L123.1,390.8 L123.4,390.7 L123.6,390.6 L123.8,390.6 L124.0,390.6 L124.3,390.5 L124.4,390.5 L131.6,390.0 L131.6,390.0 L131.6,390.0 L131.7,390.0 L139.7,389.5 L139.7,389.5 L139.9,389.5 L140.0,389.5 L147.5,389.5 L147.5,386.0 L147.5,385.8 L147.5,385.5 L147.6,385.3 L147.7,385.0 L147.8,384.8 L147.9,384.6 L148.1,384.4 L148.3,384.2 L148.4,384.0 L148.6,383.9 L148.9,383.8 L149.1,383.7 L149.3,383.6 L149.6,383.5 L149.8,383.5 L150.0,383.5 L150.0,381.0 L150.1,381.0 L150.6,381.0 L150.7,381.0 L160.7,381.5 L160.8,381.5 L160.9,381.5 L161.0,381.5 L168.0,382.0 L168.3,382.1 L169.2,382.2 L169.8,382.3 L170.7,382.5 L171.2,382.7 L172.1,383.0 L172.4,383.1 L174.8,384.1 L175.0,384.2 L175.7,384.5 L176.2,384.7 L176.9,385.2 L177.3,385.4 L177.9,385.9 L178.3,386.2 L178.9,386.7 L179.2,387.1 L179.8,387.7 L180.1,388.0 L180.6,388.7 L180.9,389.0 L181.4,389.7 L181.5,389.9 L185.6,396.9 L185.7,397.1 L186.1,398.0 L186.3,398.4 L186.7,399.3 L186.8,399.7 L187.1,400.6 L187.2,401.1 L187.4,402.0 L187.4,402.5 L187.5,403.4 L187.5,403.9 L187.5,404.8 L187.4,405.3 L187.3,406.2 L187.2,406.7 L187.0,407.6 L186.9,408.1 L186.6,409.0 L186.4,409.4 L186.0,410.3 L185.8,410.7 L185.3,411.5 L185.0,411.9 L184.5,412.6 L184.2,413.0 L183.6,413.6 L184.3,414.9 L184.4,415.1 L184.4,415.2 L184.6,415.7 L184.7,415.9 L184.8,416.3 L184.8,416.5 L184.9,416.9 L184.9,417.1 L185.0,417.6 L185.0,417.8 L185.0,418.0 L185.0,425.6 L186.0,425.7 L186.3,425.7 L187.6,426.0 L188.0,426.0 L195.0,427.8 L195.2,427.9 L196.1,428.2 L196.5,428.3 L197.4,428.7 L197.8,428.9 L198.6,429.3 L199.0,429.6 L199.7,430.1 L200.1,430.4 L200.8,431.0 L201.2,431.3 L201.8,431.9 L202.1,432.3 L202.7,433.0 L203.0,433.4 L203.5,434.2 L203.7,434.6 L204.1,435.4 L204.3,435.8 L204.7,436.7 L204.8,437.1 L205.1,438.0 L205.2,438.5 L205.3,439.3 L205.4,439.8 L205.5,440.7 L205.5,441.2 L205.5,442.1 L205.4,442.6 L205.3,443.5 L205.3,444.0 L205.1,444.8 L204.9,445.3 L204.7,446.2 L204.5,446.6 L204.1,447.4 L203.9,447.9 L203.5,448.7 L203.2,449.1 L202.7,449.8 L202.4,450.2 L201.8,450.9 L201.5,451.2 L200.8,451.8 L200.4,452.2 L199.7,452.7 L199.3,453.0 L198.6,453.5 L198.1,453.7 L197.3,454.1 L196.9,454.3 L196.1,454.6 L195.8,454.7 L191.4,456.2 L192.9,456.4 L196.8,455.1 L201.6,453.1 L201.9,453.0 L202.8,452.6 L203.4,452.5 L204.4,452.3 L204.6,452.2 L213.1,450.8 L223.0,446.8 L233.2,440.7 L241.0,433.8 L246.7,426.2 L251.4,416.7 L253.6,406.2 L253.6,406.1 L253.7,405.8 L253.7,405.7 L256.1,395.9 L256.2,395.6 L256.4,394.8 L256.6,394.4 L256.9,393.6 L257.1,393.1 L257.5,392.4 L257.7,392.0 L258.2,391.3 L258.4,390.9 L259.0,390.2 L259.3,389.8 L259.9,389.2 L260.2,388.9 L260.9,388.3 L261.2,388.0 L261.9,387.6 L262.3,387.3 L263.1,386.9 L263.5,386.7 L264.3,386.3 L264.7,386.1 L265.5,385.8 L266.0,385.7 L266.8,385.5 L267.0,385.5 L272.8,384.3 L278.0,383.0 L280.9,379.7 L281.3,376.1 L280.6,373.8 L277.2,372.3 L272.2,371.8 L271.9,371.8 L271.1,371.7 L270.7,371.6 L269.9,371.4 L269.4,371.3 L268.6,371.0 L268.2,370.9 L267.4,370.5 L267.2,370.4 L259.3,366.5 L258.9,366.2 L258.5,365.9 L258.1,365.6 L257.8,365.3 L257.5,364.9 L257.2,364.4 L257.0,364.0 L256.8,363.5 L256.7,363.1 L256.6,362.6 L256.6,362.1 L256.6,362.0 L258.1,362.0 L258.1,361.7 L258.1,361.4 L258.2,361.0 Z" fill="#e4aa3e"/>
<path d="M174.0,408.0 L172.0,420.0 L178.0,434.0 L193.0,441.0 L205.0,444.0 L222.0,440.0 L238.0,436.0 L248.0,425.0 L254.0,412.0 L258.0,398.0 L259.0,380.0 L257.0,366.0 L250.0,354.0 L244.0,348.5 L232.0,346.5 L215.0,349.0 L200.0,350.5 L185.0,350.0 L170.0,349.0 L152.0,350.0 L145.4,355.0 L137.5,366.0 L130.0,370.0 L122.7,371.0 L107.0,370.0 L100.0,368.0 L93.0,367.0 L93.0,375.0 L94.0,385.0 L97.0,392.0 L104.0,393.0 L117.0,392.0 L130.0,392.5 L140.0,393.0 L150.0,394.0 L160.0,395.0 L161.6,395.6 L167.0,396.0 L169.4,397.0 L173.5,404.0 L172.3,405.2 Z" fill="#dcc37e"/>
<path d="M176.0,405.6 L176.6,406.5 L176.7,406.7 L176.8,407.0 L176.9,407.3 L177.0,407.6 L177.0,407.9 L177.0,408.2 L177.0,408.5 L175.1,419.6 L180.3,431.8 L194.0,438.2 L205.0,440.9 L221.3,437.1 L236.4,433.3 L245.5,423.3 L251.2,411.0 L255.0,397.5 L256.0,380.1 L254.1,367.0 L247.6,355.9 L242.6,351.3 L232.0,349.5 L215.4,352.0 L215.3,352.0 L200.3,353.5 L199.9,353.5 L184.9,353.0 L184.8,353.0 L170.0,352.0 L153.1,352.9 L147.6,357.1 L139.9,367.7 L139.8,368.0 L139.6,368.2 L139.4,368.3 L139.1,368.5 L138.9,368.6 L131.4,372.6 L131.2,372.8 L130.9,372.9 L130.7,372.9 L130.4,373.0 L123.1,374.0 L122.8,374.0 L122.5,374.0 L106.8,373.0 L106.5,373.0 L106.2,372.9 L99.4,370.9 L96.0,370.5 L96.0,374.9 L96.9,384.2 L99.1,389.3 L104.1,390.0 L116.8,389.0 L117.1,389.0 L130.1,389.5 L130.1,389.5 L140.1,390.0 L140.3,390.0 L160.3,392.0 L160.6,392.1 L160.8,392.1 L161.1,392.2 L162.3,392.7 L167.2,393.0 L167.5,393.0 L167.8,393.1 L168.2,393.2 L170.6,394.2 L170.8,394.3 L171.0,394.5 L171.3,394.7 L171.5,394.8 L171.7,395.0 L171.8,395.3 L172.0,395.5 L176.1,402.5 L176.2,402.8 L176.3,403.0 L176.4,403.3 L176.5,403.6 L176.5,403.9 L176.5,404.2 L176.5,404.5 L176.4,404.8 L176.3,405.1 L176.2,405.4 Z" fill="#efe2b8"/>
<path d="M66.0,358.0 L73.0,363.0 L82.4,365.8 L93.8,365.8 L95.7,372.4 L93.8,381.9 L97.6,391.4 L105.2,397.1 L91.9,398.1 L82.4,396.2 L74.8,389.5 L73.0,380.0 L71.0,370.5 Z" fill="#ecc844"/>
<path d="M80.5,370.5 L90.0,369.6 L91.9,381.9 L93.8,393.3 L86.2,395.2 L82.4,385.7 L79.6,378.1 Z" fill="#e2a23a"/>
<path d="M93.8,365.8 L101.4,368.6 L103.3,376.2 L101.4,387.6 L107.1,395.2 L97.6,396.2 L95.7,387.6 L95.7,374.3 Z" fill="#e2cc8c"/>
<path d="M106.6,338.0 L106.4,337.9 L106.3,337.8 L106.2,337.7 L106.0,337.6 L105.9,337.5 L105.7,337.5 L105.6,337.4 L95.9,335.4 L84.0,334.6 L75.2,334.0 L63.3,335.5 L63.1,335.5 L62.9,335.6 L62.7,335.7 L62.6,335.8 L62.4,335.9 L54.8,341.6 L54.7,341.7 L54.5,341.8 L54.4,342.0 L54.4,342.0 L54.2,342.5 L54.1,342.6 L54.1,342.8 L54.1,343.0 L54.1,347.8 L54.1,348.0 L54.1,348.2 L54.2,348.3 L54.2,348.5 L54.3,348.6 L54.4,348.8 L54.5,348.9 L54.6,349.1 L58.4,352.9 L58.6,353.0 L66.1,358.7 L71.7,364.3 L71.9,364.4 L72.0,364.5 L72.2,364.6 L72.3,364.7 L72.5,364.7 L81.9,367.5 L82.1,367.6 L82.2,367.6 L82.4,367.6 L93.8,367.6 L94.0,367.6 L94.1,367.6 L94.3,367.5 L94.4,367.5 L94.6,367.4 L100.3,364.6 L100.4,364.5 L100.6,364.4 L100.7,364.3 L100.8,364.2 L101.0,364.1 L101.0,363.9 L101.1,363.8 L101.2,363.6 L101.2,363.4 L103.0,356.5 L108.1,353.1 L108.2,353.0 L108.4,352.9 L108.5,352.7 L108.6,352.6 L108.7,352.4 L111.0,347.8 L110.5,345.9 L110.4,345.8 L110.4,345.6 L110.4,345.5 L110.4,345.4 L110.4,345.2 L110.5,345.1 L110.5,344.9 L110.6,344.8 L110.6,344.7 L110.7,344.6 L110.8,344.4 L110.9,344.3 L111.0,344.3 L106.7,338.2 Z" fill="#e8c040"/>
<path d="M105.2,339.2 L91.9,336.4 L78.6,335.4 L63.5,337.3 L55.9,343.0 L55.9,347.8 L59.7,351.6 L67.3,357.3 L73.0,363.0 L82.4,365.8 L93.8,365.8 L99.5,363.0 L101.4,355.4 L107.1,351.6 L109.8,346.2 L109.8,346.1 L109.7,345.9 L109.7,345.7 L109.7,345.5 L109.7,345.5 Z" fill="#efe0b0"/>
<path d="M103.4,341.9 L91.5,339.4 L78.7,338.4 L64.7,340.2 L58.9,344.5 L58.9,346.6 L61.7,349.3 L69.1,354.9 L69.4,355.2 L74.6,360.3 L82.8,362.8 L93.1,362.8 L96.9,360.9 L98.5,354.7 L98.6,354.4 L98.7,354.2 L98.8,353.9 L98.9,353.7 L99.1,353.5 L99.3,353.3 L99.5,353.1 L99.7,352.9 L104.8,349.5 L106.5,346.2 Z" fill="#f7efd0"/>
<path d="M63.1,345.8 L64.0,346.7 L71.2,352.1 L71.9,352.7 L76.4,357.2 L83.3,359.3 L92.3,359.3 L93.9,358.5 L95.1,353.8 L95.3,353.2 L95.5,352.7 L95.8,352.2 L96.1,351.7 L96.5,351.2 L96.9,350.7 L97.3,350.3 L97.8,350.0 L102.1,347.1 L102.4,346.5 L101.4,345.0 L91.0,342.8 L78.8,341.9 L66.0,343.5 Z" fill="#fdfaee"/>
<path d="M99.1,387.2 L99.2,388.3 L99.5,389.4 L99.9,390.4 L100.4,391.4 L101.0,392.4 L101.2,392.6 L104.0,393.0 L117.0,392.0 L130.0,392.5 L140.0,393.0 L150.0,394.0 L160.0,395.0 L161.6,395.6 L167.0,396.0 L169.4,397.0 L173.5,404.0 L172.3,405.2 L174.0,408.0 L172.0,420.0 L178.0,434.0 L193.0,441.0 L203.4,443.6 L212.9,442.2 L219.4,440.6 L230.0,437.6 L230.9,437.3 L231.7,436.9 L232.5,436.5 L243.2,430.3 L248.0,425.0 L254.0,412.0 L258.0,398.0 L259.0,380.0 L257.0,366.0 L250.0,354.0 L244.0,348.5 L232.0,346.5 L215.0,349.0 L214.7,349.0 L214.3,349.4 L213.6,350.2 L213.0,351.1 L206.4,361.6 L198.5,366.1 L190.9,368.6 L182.3,369.8 L152.2,363.8 L151.0,363.6 L149.9,363.6 L148.7,363.7 L147.6,363.9 L146.5,364.2 L138.5,366.9 L136.1,366.7 L130.0,370.0 L122.7,371.0 L107.0,370.0 L102.0,368.6 L101.2,369.3 L100.5,370.1 L99.8,371.0 L99.3,371.9 L98.8,372.9 L98.4,373.9 L98.2,375.0 L98.0,376.0 L98.0,377.1 L98.1,378.2 Z" fill="#f6eed6"/>
<path d="M105.0,386.6 L105.1,387.1 L105.2,387.5 L105.4,388.0 L105.7,388.5 L105.9,388.9 L108.6,392.6 L117.0,392.0 L130.0,392.5 L140.0,393.0 L150.0,394.0 L160.0,395.0 L161.6,395.6 L167.0,396.0 L169.4,397.0 L173.5,404.0 L172.3,405.2 L174.0,408.0 L172.3,418.0 L174.0,424.7 L175.0,427.0 L175.0,427.0 L175.3,427.4 L175.7,427.7 L184.7,435.7 L185.0,436.0 L185.4,436.3 L185.8,436.5 L186.2,436.7 L186.7,436.8 L187.1,436.9 L187.6,437.0 L199.6,438.0 L200.2,438.0 L200.8,437.9 L213.8,435.9 L214.4,435.8 L228.4,431.8 L228.8,431.7 L229.2,431.5 L229.5,431.3 L241.5,424.3 L241.9,424.1 L242.3,423.8 L242.6,423.5 L242.9,423.1 L250.9,413.1 L251.2,412.7 L251.4,412.3 L251.6,411.9 L256.6,399.9 L256.8,399.4 L256.9,398.9 L257.0,398.4 L258.0,386.4 L258.0,385.7 L257.0,369.7 L256.9,369.3 L256.9,368.8 L256.7,368.4 L254.5,361.7 L251.5,356.6 L246.2,352.2 L245.8,351.9 L245.4,351.6 L244.9,351.4 L244.4,351.2 L243.9,351.1 L235.9,349.6 L235.5,349.5 L227.5,348.7 L227.0,348.7 L226.5,348.7 L226.0,348.8 L225.5,348.9 L225.0,349.1 L224.6,349.3 L224.1,349.6 L219.4,352.9 L219.0,353.2 L218.7,353.6 L218.4,353.9 L218.1,354.3 L210.6,366.1 L200.9,371.6 L192.3,374.5 L182.1,375.9 L151.0,369.7 L150.5,369.6 L149.9,369.6 L149.4,369.6 L148.9,369.7 L148.4,369.9 L139.3,372.9 L123.9,372.0 L123.6,372.0 L109.0,372.0 L108.5,372.0 L108.0,372.1 L107.5,372.2 L107.1,372.4 L106.6,372.6 L106.2,372.9 L105.8,373.2 L105.4,373.5 L105.1,373.9 L104.8,374.3 L104.6,374.7 L104.4,375.1 L104.2,375.6 L104.1,376.1 L104.0,376.6 L104.0,377.1 L104.0,377.6 Z" fill="#faf6e8"/>
<defs><radialGradient id="cyg" cx="215" cy="395" r="55" gradientUnits="userSpaceOnUse"><stop offset="0" stop-color="#cdf3f8"/><stop offset="1" stop-color="#e9fbfa"/></radialGradient></defs>
<path d="M109.0,377.0 L123.6,377.0 L140.0,378.0 L150.0,374.6 L166.0,377.8 L182.0,381.0 L193.4,379.4 L203.0,376.2 L214.2,369.8 L222.3,357.0 L227.0,353.7 L235.0,354.5 L243.0,356.0 L249.0,361.0 L252.0,370.0 L253.0,386.0 L252.0,398.0 L247.0,410.0 L239.0,420.0 L227.0,427.0 L213.0,431.0 L200.0,433.0 L188.0,432.0 L179.0,424.0 L176.0,412.0 L172.0,403.0 L165.0,398.5 L155.0,397.5 L140.0,396.5 L125.0,395.5 L115.0,393.0 L110.0,386.0 Z" fill="url(#cyg)"/>
<path d="M155.5,416.5 L159.4,413.1 L164.7,410.4 L170.0,407.8 L174.0,410.0 L178.0,418.0 L178.0,430.0 L176.0,436.5 L168.6,436.5 L162.0,434.5 L156.7,431.0 L154.5,426.0 L154.3,421.0 Z" fill="#b4e8f4"/>
<path d="M160.5,417.5 L168,416 L173.9,421 L174.5,431 L166,433 L160.5,429 L158.5,423 Z" fill="#5aa6ee"/>
<path d="M161,419 L166,418.5 L169,424 L167,429.5 L162,427.5 Z" fill="#2f6ae6"/>
<circle cx="163.4" cy="423" r="1.6" fill="none" stroke="#123" stroke-width="0.7"/>
<path d="M48.0,350.7 L52.7,351.9 L53.0,352.0 L53.3,352.1 L53.6,352.3 L53.9,352.5 L54.1,352.7 L57.9,356.5 L58.1,356.7 L58.3,356.9 L58.4,357.2 L58.6,357.4 L58.7,357.7 L58.7,358.0 L58.8,358.3 L58.8,358.6 L58.8,358.8 L58.8,359.1 L58.7,359.4 L58.6,359.7 L58.5,360.0 L58.3,360.2 L58.2,360.4 L58.0,360.7 L57.8,360.9 L57.5,361.0 L57.3,361.2 L51.8,364.4 L51.7,364.9 L52.7,365.6 L53.0,365.8 L53.2,366.0 L53.4,366.2 L53.6,366.5 L53.8,366.7 L53.9,367.0 L54.0,367.3 L54.1,367.6 L54.1,367.9 L54.1,368.2 L54.1,368.5 L53.2,375.1 L56.4,381.4 L59.6,384.7 L65.0,388.2 L65.3,388.4 L65.5,388.5 L73.7,396.5 L86.6,396.0 L87.0,396.0 L87.3,396.1 L99.3,398.6 L99.5,398.6 L99.7,398.7 L105.1,400.7 L108.8,399.7 L114.6,396.4 L114.9,396.3 L115.1,396.2 L123.8,393.2 L124.1,393.1 L124.3,393.0 L124.6,393.0 L131.8,392.5 L131.8,392.5 L139.8,392.0 L140.0,392.0 L150.0,392.0 L150.1,392.0 L160.1,392.5 L160.2,392.5 L167.2,393.0 L167.5,393.0 L167.8,393.1 L168.2,393.2 L170.6,394.2 L170.8,394.3 L171.0,394.5 L171.3,394.7 L171.5,394.8 L171.7,395.0 L171.8,395.3 L172.0,395.5 L176.1,402.5 L176.2,402.8 L176.3,403.0 L176.4,403.3 L176.5,403.6 L176.5,403.9 L176.5,404.2 L176.5,404.5 L176.4,404.8 L176.3,405.1 L176.2,405.4 L176.0,405.7 L175.8,405.9 L175.6,406.1 L172.1,409.6 L171.9,409.8 L171.7,410.0 L171.5,410.1 L171.3,410.2 L166.0,412.7 L165.9,412.8 L160.2,415.2 L156.7,418.3 L155.1,422.7 L155.5,426.6 L158.0,430.9 L162.7,434.0 L169.0,435.3 L178.1,435.9 L178.2,435.9 L184.8,436.6 L185.2,436.7 L192.2,438.5 L192.5,438.6 L192.8,438.7 L193.1,438.8 L193.3,439.0 L193.5,439.2 L193.7,439.4 L193.9,439.6 L194.1,439.9 L194.2,440.2 L194.3,440.4 L194.4,440.7 L194.5,441.0 L194.5,441.3 L194.5,441.6 L194.5,441.9 L194.4,442.2 L194.3,442.5 L194.2,442.7 L194.0,443.0 L193.9,443.2 L193.7,443.5 L193.5,443.7 L193.2,443.9 L193.0,444.0 L192.7,444.1 L192.4,444.3 L184.7,446.8 L184.3,446.9 L176.7,448.2 L176.5,448.2 L176.2,448.2 L166.6,448.2 L162.8,450.1 L161.4,452.2 L162.4,456.0 L162.5,456.2 L162.5,456.5 L162.5,456.8 L162.5,457.1 L162.4,457.4 L162.3,457.7 L162.2,457.9 L162.1,458.2 L161.9,458.4 L161.8,458.7 L161.6,458.9 L161.4,459.1 L161.1,459.2 L160.9,459.4 L160.6,459.5 L160.3,459.6 L160.1,459.6 L159.8,459.7 L159.5,459.7 L159.2,459.7 L158.9,459.6 L153.7,458.6 L151.0,460.5 L150.7,460.7 L145.6,463.3 L145.2,463.4 L144.9,463.5 L140.9,464.4 L140.7,464.9 L141.4,465.3 L148.5,466.5 L148.7,466.6 L153.0,467.7 L159.7,465.4 L164.6,463.0 L164.8,462.9 L165.1,462.8 L165.4,462.7 L165.7,462.7 L166.0,462.7 L166.3,462.7 L176.6,464.0 L176.9,464.1 L187.0,466.6 L193.8,467.7 L200.6,465.4 L205.8,463.2 L206.2,463.1 L206.5,463.0 L216.1,461.4 L227.9,456.7 L239.7,449.6 L249.1,441.3 L256.1,432.0 L261.9,420.3 L264.4,408.4 L264.4,408.3 L266.8,398.5 L266.9,398.2 L267.0,397.9 L267.1,397.7 L267.3,397.5 L267.4,397.2 L267.6,397.0 L267.8,396.8 L268.1,396.7 L268.3,396.5 L268.6,396.4 L268.9,396.3 L269.1,396.3 L275.2,395.1 L284.1,392.8 L291.4,384.4 L292.5,374.9 L289.5,365.7 L280.0,361.5 L273.2,360.9 L272.9,360.8 L272.7,360.8 L272.4,360.7 L272.2,360.6 L259.0,354.0 L258.7,353.9 L258.5,353.7 L258.3,353.6 L247.7,344.4 L247.6,344.2 L247.4,344.0 L239.8,335.1 L229.6,328.7 L229.3,328.6 L229.1,328.3 L228.9,328.1 L222.3,320.1 L222.1,319.9 L221.9,319.6 L221.8,319.3 L221.7,319.0 L221.6,318.7 L221.6,318.4 L221.6,318.1 L221.6,317.8 L222.9,308.6 L223.0,308.3 L223.1,308.0 L223.2,307.7 L225.3,303.4 L223.0,295.2 L222.9,294.9 L222.9,294.6 L222.9,294.3 L222.9,294.0 L223.0,293.7 L223.1,293.4 L223.2,293.2 L223.3,292.9 L223.5,292.6 L223.7,292.4 L223.9,292.2 L224.1,292.0 L224.4,291.8 L224.6,291.7 L224.9,291.6 L225.2,291.5 L230.5,290.2 L230.6,290.2 L226.4,285.9 L226.2,285.7 L226.0,285.4 L225.8,285.2 L225.7,284.9 L225.6,284.6 L225.5,284.3 L225.5,284.0 L225.5,283.7 L225.5,283.4 L225.6,283.1 L226.9,277.8 L227.0,277.5 L227.1,277.2 L227.2,277.0 L227.4,276.7 L227.6,276.5 L227.8,276.3 L228.0,276.1 L228.2,275.9 L228.5,275.8 L228.8,275.7 L229.1,275.6 L229.3,275.5 L229.6,275.5 L229.9,275.5 L230.2,275.5 L230.5,275.6 L230.8,275.7 L233.0,276.4 L233.8,275.6 L231.8,273.0 L225.7,269.9 L217.0,273.2 L209.4,280.6 L209.2,280.9 L208.9,281.0 L198.4,287.6 L198.2,287.8 L197.9,287.9 L197.7,288.0 L197.4,288.0 L197.1,288.1 L185.9,289.4 L174.6,296.9 L163.3,304.4 L161.8,307.5 L164.6,312.2 L171.7,316.9 L181.7,320.6 L189.3,321.8 L189.6,321.9 L189.9,322.0 L190.1,322.1 L190.4,322.3 L190.6,322.4 L190.9,322.6 L191.1,322.8 L191.3,323.1 L191.4,323.3 L191.5,323.6 L191.7,323.9 L191.7,324.2 L191.8,324.4 L191.8,324.7 L191.8,325.0 L191.8,325.3 L191.7,325.6 L191.6,325.9 L191.5,326.2 L191.3,326.4 L191.1,326.7 L190.9,326.9 L190.7,327.1 L190.5,327.3 L190.2,327.4 L190.0,327.6 L174.4,334.1 L171.8,336.0 L171.5,336.2 L171.3,336.3 L171.0,336.4 L164.6,338.7 L164.4,338.8 L164.1,338.9 L157.3,340.0 L157.1,340.0 L150.7,340.5 L146.8,342.6 L146.5,342.7 L146.2,342.8 L145.9,342.8 L145.7,342.9 L140.1,343.4 L135.5,344.4 L132.3,347.6 L131.5,351.8 L132.3,356.0 L135.0,358.8 L135.2,359.0 L135.4,359.2 L135.5,359.5 L135.7,359.8 L135.8,360.0 L135.8,360.3 L135.9,360.6 L135.9,360.9 L135.9,361.2 L135.8,361.5 L135.8,361.8 L135.7,362.0 L135.5,362.3 L135.4,362.6 L135.2,362.8 L135.0,363.0 L133.9,364.1 L133.7,364.3 L133.5,364.5 L133.2,364.6 L132.9,364.8 L132.7,364.9 L132.4,364.9 L126.7,366.0 L126.4,366.1 L126.1,366.1 L125.9,366.1 L119.1,365.6 L118.8,365.6 L118.6,365.5 L111.8,363.8 L111.5,363.7 L111.2,363.6 L111.0,363.5 L110.7,363.3 L110.5,363.1 L110.3,362.9 L110.1,362.7 L109.9,362.4 L109.8,362.2 L109.7,361.9 L108.5,358.5 L108.4,358.2 L108.3,357.9 L108.3,357.6 L108.3,357.3 L108.3,357.0 L108.4,356.7 L108.5,356.5 L108.6,356.2 L108.7,355.9 L108.9,355.7 L111.3,352.6 L110.4,350.8 L110.3,350.6 L110.2,350.4 L109.0,346.4 L109.0,346.1 L108.9,345.8 L108.9,345.5 L108.9,345.2 L109.0,344.9 L109.0,344.6 L109.1,344.4 L109.2,344.1 L109.4,343.8 L109.6,343.6 L109.8,343.4 L110.0,343.2 L110.2,343.0 L110.5,342.9 L110.7,342.7 L114.7,341.0 L115.0,340.9 L115.4,340.8 L119.7,340.1 L120.0,338.9 L118.9,337.7 L111.2,337.2 L97.4,337.0 L97.2,337.0 L83.9,336.1 L69.1,335.1 L61.0,336.0 L57.3,339.6 L54.7,344.8 L54.5,345.1 L54.4,345.4 L54.1,345.6 L53.9,345.8 L48.2,350.5 L48.0,350.7 L48.0,350.7" fill="none" stroke="#1a1a1a" stroke-width="0.65"/>
<path d="M124.1,393.1 L124.3,393.0 L124.6,393.0 L131.8,392.5 L131.8,392.5 L139.8,392.0 L140.0,392.0 L150.0,392.0 L150.0,386.0 L150.4,386.0 L160.4,386.5 L160.6,386.5 L167.6,387.0 L168.6,387.1 L169.5,387.4 L170.5,387.7 L172.9,388.7 L173.6,389.0 L174.3,389.5 L175.0,390.0 L175.6,390.5 L176.2,391.1 L176.7,391.8 L177.2,392.5 L181.3,399.5 L181.7,400.3 L182.0,401.1 L182.3,402.0 L182.4,402.9 L182.5,403.8 L182.5,404.7 L182.4,405.6 L182.2,406.5 L181.9,407.3 L181.5,408.2 L181.0,409.0 L180.5,409.7 L179.9,410.4 L177.6,412.7 L179.8,417.1 L179.9,417.3 L179.9,417.5 L180.0,417.6 L180.0,417.8 L180.0,418.0 L180.0,430.0 L180.0,430.1 L185.4,430.7 L186.7,430.9 L193.7,432.7 L194.6,432.9 L195.4,433.3 L196.2,433.7 L196.9,434.2 L197.6,434.8 L198.2,435.4 L198.8,436.1 L199.3,436.9 L199.7,437.7 L200.0,438.5 L200.3,439.4 L200.4,440.2 L200.5,441.1 L200.5,442.0 L200.4,442.9 L200.2,443.8 L199.9,444.6 L199.5,445.4 L199.1,446.2 L198.6,446.9 L198.0,447.6 L197.4,448.2 L196.7,448.8 L195.9,449.2 L195.1,449.6 L194.3,450.0 L186.6,452.5 L185.3,452.8 L177.7,454.1 L177.0,454.2 L176.2,454.2 L168.2,454.2 L168.2,454.5 L168.4,455.3 L168.5,456.2 L168.5,457.0 L177.3,458.1 L178.3,458.3 L188.2,460.7 L193.3,461.5 L198.5,459.8 L203.5,457.7 L204.5,457.4 L205.5,457.1 L214.4,455.6 L225.2,451.3 L236.2,444.7 L244.7,437.2 L251.0,428.8 L256.2,418.4 L258.5,407.2 L258.6,406.9 L261.0,397.1 L261.2,396.2 L261.5,395.4 L261.9,394.7 L262.4,394.0 L262.9,393.3 L263.5,392.7 L264.1,392.1 L264.8,391.6 L265.6,391.2 L266.4,390.8 L267.2,390.6 L268.0,390.4 L273.9,389.2 L280.8,387.5 L285.7,381.9 L286.4,375.5 L284.6,370.1 L278.5,367.4 L272.6,366.9 L271.8,366.7 L271.0,366.6 L270.2,366.3 L269.5,365.9 L261.6,362.0 L268.3,362.0 L257.6,356.7 L257.2,356.4 L256.8,356.1 L256.4,355.8 L245.8,346.6 L245.4,346.3 L245.1,346.0 L239.6,339.5 L235.0,340.0 L206.0,334.0 L200.0,325.0 L198.0,321.0 L196.0,325.0 L190.0,334.0 L170.0,340.0 L169.1,340.3 L165.6,341.5 L165.1,341.7 L164.6,341.8 L164.5,341.8 L152.0,346.0 L149.3,344.6 L148.1,345.2 L147.6,345.5 L147.1,345.7 L146.5,345.8 L145.9,345.9 L140.6,346.3 L137.0,347.1 L135.0,349.0 L134.5,351.8 L134.5,352.0 L131.5,352.0 L132.3,356.0 L135.0,358.8 L135.2,359.0 L135.4,359.2 L135.5,359.5 L135.7,359.8 L135.8,360.0 L135.8,360.3 L135.9,360.6 L135.9,360.9 L135.9,361.2 L135.8,361.5 L135.8,361.8 L135.7,362.0 L135.5,362.3 L135.4,362.6 L135.2,362.8 L135.0,363.0 L133.9,364.1 L133.7,364.3 L133.5,364.5 L133.2,364.6 L132.9,364.8 L132.7,364.9 L132.4,364.9 L126.7,366.0 L126.4,366.1 L126.1,366.1 L125.9,366.1 L119.1,365.6 L118.8,365.6 L118.6,365.5 L111.8,363.8 L111.5,363.7 L111.2,363.6 L111.0,363.5 L110.7,363.3 L110.5,363.1 L110.3,362.9 L110.1,362.7 L109.9,362.4 L109.8,362.2 L109.7,361.9 L108.5,358.5 L108.4,358.2 L108.3,357.9 L108.3,357.6 L108.3,357.3 L108.3,357.0 L108.4,356.7 L108.5,356.5 L108.6,356.2 L108.7,355.9 L108.9,355.7 L111.3,352.6 L111.0,352.0 L109.1,352.0 L107.0,360.0 L106.0,372.0 L107.7,400.0 L108.8,399.7 L114.6,396.4 L114.9,396.3 L115.1,396.2 L123.8,393.2 L124.1,393.1" fill="none" stroke="#1a1a1a" stroke-width="0.65"/>
<path d="M258.3,360.9 L256.1,359.8 L255.9,359.7 L255.5,359.5 L255.2,359.3 L254.8,359.1 L254.6,358.9 L254.2,358.6 L254.1,358.5 L243.5,349.3 L243.4,349.2 L243.0,348.9 L242.9,348.7 L242.5,348.3 L242.5,348.3 L238.1,343.2 L235.4,343.5 L235.0,343.5 L234.7,343.5 L234.3,343.4 L205.3,337.4 L205.0,337.3 L204.6,337.2 L204.3,337.1 L204.0,336.9 L203.8,336.7 L203.5,336.5 L203.3,336.2 L203.1,335.9 L198.0,328.3 L192.9,335.9 L192.7,336.2 L192.5,336.5 L192.2,336.7 L191.9,336.9 L191.6,337.1 L191.3,337.2 L191.0,337.4 L171.1,343.3 L170.2,343.6 L166.8,344.8 L166.7,344.9 L166.1,345.1 L165.8,345.1 L165.4,345.2 L153.1,349.3 L152.8,349.4 L152.4,349.5 L152.1,349.5 L151.8,349.5 L151.4,349.5 L151.1,349.4 L150.7,349.3 L150.4,349.1 L149.3,348.6 L149.0,348.7 L148.7,348.8 L148.2,349.0 L147.9,349.1 L147.3,349.2 L147.0,349.3 L146.4,349.3 L146.2,349.4 L141.1,349.8 L138.7,350.3 L138.3,350.8 L138.0,352.0 L138.0,352.0 L137.0,352.0 L137.0,352.0 L137.0,352.3 L137.0,352.5 L136.9,352.7 L136.9,353.0 L136.7,353.2 L136.6,353.4 L136.5,353.6 L136.3,353.8 L136.1,353.9 L135.9,354.1 L135.7,354.2 L135.5,354.3 L135.3,354.4 L135.0,354.5 L134.8,354.5 L134.5,354.5 L134.5,354.5 L134.6,354.8 L136.8,357.0 L136.9,357.1 L137.1,357.3 L137.2,357.5 L137.4,357.7 L137.5,357.9 L137.7,358.2 L137.8,358.4 L137.9,358.7 L138.0,358.9 L138.1,359.2 L138.2,359.4 L138.3,359.7 L138.3,359.9 L138.4,360.2 L138.4,360.5 L138.4,360.8 L138.4,361.0 L138.4,361.3 L138.4,361.6 L138.3,361.9 L138.3,362.1 L138.2,362.4 L138.1,362.6 L138.0,362.9 L137.9,363.1 L137.8,363.4 L137.7,363.6 L137.5,363.9 L137.4,364.1 L137.2,364.3 L137.1,364.5 L136.9,364.7 L136.8,364.8 L135.7,365.9 L135.6,366.0 L135.4,366.2 L135.2,366.3 L134.9,366.5 L134.7,366.6 L134.5,366.8 L134.3,366.9 L134.0,367.0 L133.8,367.1 L133.5,367.2 L133.3,367.3 L133.0,367.4 L132.8,367.4 L127.1,368.5 L127.0,368.5 L126.8,368.6 L126.6,368.6 L126.3,368.6 L126.1,368.6 L125.8,368.6 L125.7,368.6 L118.9,368.1 L118.8,368.1 L118.5,368.0 L118.3,368.0 L118.1,368.0 L118.0,367.9 L111.2,366.2 L111.0,366.2 L110.8,366.1 L110.5,366.0 L110.3,365.9 L110.0,365.8 L109.8,365.7 L109.6,365.5 L109.3,365.4 L109.1,365.2 L109.1,365.2 L108.5,372.0 L110.0,396.1 L113.4,394.2 L113.5,394.2 L113.7,394.0 L113.9,393.9 L114.2,393.8 L114.3,393.8 L123.0,390.8 L123.1,390.8 L123.4,390.7 L123.6,390.6 L123.8,390.6 L124.0,390.6 L124.3,390.5 L124.4,390.5 L131.6,390.0 L131.6,390.0 L131.6,390.0 L131.7,390.0 L139.7,389.5 L139.7,389.5 L139.9,389.5 L140.0,389.5 L147.5,389.5 L147.5,386.0 L147.5,385.8 L147.5,385.5 L147.6,385.3 L147.7,385.0 L147.8,384.8 L147.9,384.6 L148.1,384.4 L148.3,384.2 L148.4,384.0 L148.6,383.9 L148.9,383.8 L149.1,383.7 L149.3,383.6 L149.6,383.5 L149.8,383.5 L150.0,383.5 L150.0,381.0 L150.1,381.0 L150.6,381.0 L150.7,381.0 L160.7,381.5 L160.8,381.5 L160.9,381.5 L161.0,381.5 L168.0,382.0 L168.3,382.1 L169.2,382.2 L169.8,382.3 L170.7,382.5 L171.2,382.7 L172.1,383.0 L172.4,383.1 L174.8,384.1 L175.0,384.2 L175.7,384.5 L176.2,384.7 L176.9,385.2 L177.3,385.4 L177.9,385.9 L178.3,386.2 L178.9,386.7 L179.2,387.1 L179.8,387.7 L180.1,388.0 L180.6,388.7 L180.9,389.0 L181.4,389.7 L181.5,389.9 L185.6,396.9 L185.7,397.1 L186.1,398.0 L186.3,398.4 L186.7,399.3 L186.8,399.7 L187.1,400.6 L187.2,401.1 L187.4,402.0 L187.4,402.5 L187.5,403.4 L187.5,403.9 L187.5,404.8 L187.4,405.3 L187.3,406.2 L187.2,406.7 L187.0,407.6 L186.9,408.1 L186.6,409.0 L186.4,409.4 L186.0,410.3 L185.8,410.7 L185.3,411.5 L185.0,411.9 L184.5,412.6 L184.2,413.0 L183.6,413.6 L184.3,414.9 L184.4,415.1 L184.4,415.2 L184.6,415.7 L184.7,415.9 L184.8,416.3 L184.8,416.5 L184.9,416.9 L184.9,417.1 L185.0,417.6 L185.0,417.8 L185.0,418.0 L185.0,425.6 L186.0,425.7 L186.3,425.7 L187.6,426.0 L188.0,426.0 L195.0,427.8 L195.2,427.9 L196.1,428.2 L196.5,428.3 L197.4,428.7 L197.8,428.9 L198.6,429.3 L199.0,429.6 L199.7,430.1 L200.1,430.4 L200.8,431.0 L201.2,431.3 L201.8,431.9 L202.1,432.3 L202.7,433.0 L203.0,433.4 L203.5,434.2 L203.7,434.6 L204.1,435.4 L204.3,435.8 L204.7,436.7 L204.8,437.1 L205.1,438.0 L205.2,438.5 L205.3,439.3 L205.4,439.8 L205.5,440.7 L205.5,441.2 L205.5,442.1 L205.4,442.6 L205.3,443.5 L205.3,444.0 L205.1,444.8 L204.9,445.3 L204.7,446.2 L204.5,446.6 L204.1,447.4 L203.9,447.9 L203.5,448.7 L203.2,449.1 L202.7,449.8 L202.4,450.2 L201.8,450.9 L201.5,451.2 L200.8,451.8 L200.4,452.2 L199.7,452.7 L199.3,453.0 L198.6,453.5 L198.1,453.7 L197.3,454.1 L196.9,454.3 L196.1,454.6 L195.8,454.7 L191.4,456.2 L192.9,456.4 L196.8,455.1 L201.6,453.1 L201.9,453.0 L202.8,452.6 L203.4,452.5 L204.4,452.3 L204.6,452.2 L213.1,450.8 L223.0,446.8 L233.2,440.7 L241.0,433.8 L246.7,426.2 L251.4,416.7 L253.6,406.2 L253.6,406.1 L253.7,405.8 L253.7,405.7 L256.1,395.9 L256.2,395.6 L256.4,394.8 L256.6,394.4 L256.9,393.6 L257.1,393.1 L257.5,392.4 L257.7,392.0 L258.2,391.3 L258.4,390.9 L259.0,390.2 L259.3,389.8 L259.9,389.2 L260.2,388.9 L260.9,388.3 L261.2,388.0 L261.9,387.6 L262.3,387.3 L263.1,386.9 L263.5,386.7 L264.3,386.3 L264.7,386.1 L265.5,385.8 L266.0,385.7 L266.8,385.5 L267.0,385.5 L272.8,384.3 L278.0,383.0 L280.9,379.7 L281.3,376.1 L280.6,373.8 L277.2,372.3 L272.2,371.8 L271.9,371.8 L271.1,371.7 L270.7,371.6 L269.9,371.4 L269.4,371.3 L268.6,371.0 L268.2,370.9 L267.4,370.5 L267.2,370.4 L259.3,366.5 L258.9,366.2 L258.5,365.9 L258.1,365.6 L257.8,365.3 L257.5,364.9 L257.2,364.4 L257.0,364.0 L256.8,363.5 L256.7,363.1 L256.6,362.6 L256.6,362.1 L256.6,362.0 L258.1,362.0 L258.1,361.7 L258.1,361.4 L258.2,361.0 L258.3,360.9" fill="none" stroke="#1a1a1a" stroke-width="0.65"/>
<path d="M174.0,408.0 L172.0,420.0 L178.0,434.0 L193.0,441.0 L205.0,444.0 L222.0,440.0 L238.0,436.0 L248.0,425.0 L254.0,412.0 L258.0,398.0 L259.0,380.0 L257.0,366.0 L250.0,354.0 L244.0,348.5 L232.0,346.5 L215.0,349.0 L200.0,350.5 L185.0,350.0 L170.0,349.0 L152.0,350.0 L145.4,355.0 L137.5,366.0 L130.0,370.0 L122.7,371.0 L107.0,370.0 L100.0,368.0 L93.0,367.0 L93.0,375.0 L94.0,385.0 L97.0,392.0 L104.0,393.0 L117.0,392.0 L130.0,392.5 L140.0,393.0 L150.0,394.0 L160.0,395.0 L161.6,395.6 L167.0,396.0 L169.4,397.0 L173.5,404.0 L172.3,405.2 L174.0,408.0" fill="none" stroke="#1a1a1a" stroke-width="0.65"/>
<path d="M176.0,405.6 L176.6,406.5 L176.7,406.7 L176.8,407.0 L176.9,407.3 L177.0,407.6 L177.0,407.9 L177.0,408.2 L177.0,408.5 L175.1,419.6 L180.3,431.8 L194.0,438.2 L205.0,440.9 L221.3,437.1 L236.4,433.3 L245.5,423.3 L251.2,411.0 L255.0,397.5 L256.0,380.1 L254.1,367.0 L247.6,355.9 L242.6,351.3 L232.0,349.5 L215.4,352.0 L215.3,352.0 L200.3,353.5 L199.9,353.5 L184.9,353.0 L184.8,353.0 L170.0,352.0 L153.1,352.9 L147.6,357.1 L139.9,367.7 L139.8,368.0 L139.6,368.2 L139.4,368.3 L139.1,368.5 L138.9,368.6 L131.4,372.6 L131.2,372.8 L130.9,372.9 L130.7,372.9 L130.4,373.0 L123.1,374.0 L122.8,374.0 L122.5,374.0 L106.8,373.0 L106.5,373.0 L106.2,372.9 L99.4,370.9 L96.0,370.5 L96.0,374.9 L96.9,384.2 L99.1,389.3 L104.1,390.0 L116.8,389.0 L117.1,389.0 L130.1,389.5 L130.1,389.5 L140.1,390.0 L140.3,390.0 L160.3,392.0 L160.6,392.1 L160.8,392.1 L161.1,392.2 L162.3,392.7 L167.2,393.0 L167.5,393.0 L167.8,393.1 L168.2,393.2 L170.6,394.2 L170.8,394.3 L171.0,394.5 L171.3,394.7 L171.5,394.8 L171.7,395.0 L171.8,395.3 L172.0,395.5 L176.1,402.5 L176.2,402.8 L176.3,403.0 L176.4,403.3 L176.5,403.6 L176.5,403.9 L176.5,404.2 L176.5,404.5 L176.4,404.8 L176.3,405.1 L176.2,405.4 L176.0,405.6" fill="none" stroke="#1a1a1a" stroke-width="0.65"/>
<path d="M105.2,339.2 L91.9,336.4 L78.6,335.4 L63.5,337.3 L55.9,343.0 L55.9,347.8 L59.7,351.6 L67.3,357.3 L73.0,363.0 L82.4,365.8 L93.8,365.8 L99.5,363.0 L101.4,355.4 L107.1,351.6 L109.8,346.2 L109.8,346.1 L109.7,345.9 L109.7,345.7 L109.7,345.5 L109.7,345.5 L105.2,339.2" fill="none" stroke="#1a1a1a" stroke-width="0.65"/>
<path d="M103.4,341.9 L91.5,339.4 L78.7,338.4 L64.7,340.2 L58.9,344.5 L58.9,346.6 L61.7,349.3 L69.1,354.9 L69.4,355.2 L74.6,360.3 L82.8,362.8 L93.1,362.8 L96.9,360.9 L98.5,354.7 L98.6,354.4 L98.7,354.2 L98.8,353.9 L98.9,353.7 L99.1,353.5 L99.3,353.3 L99.5,353.1 L99.7,352.9 L104.8,349.5 L106.5,346.2 L103.4,341.9" fill="none" stroke="#1a1a1a" stroke-width="0.65"/>
<path d="M63.1,345.8 L64.0,346.7 L71.2,352.1 L71.9,352.7 L76.4,357.2 L83.3,359.3 L92.3,359.3 L93.9,358.5 L95.1,353.8 L95.3,353.2 L95.5,352.7 L95.8,352.2 L96.1,351.7 L96.5,351.2 L96.9,350.7 L97.3,350.3 L97.8,350.0 L102.1,347.1 L102.4,346.5 L101.4,345.0 L91.0,342.8 L78.8,341.9 L66.0,343.5 L63.1,345.8" fill="none" stroke="#1a1a1a" stroke-width="0.65"/>
<path d="M66.0,358.0 L73.0,363.0 L82.4,365.8 L93.8,365.8 L95.7,372.4 L93.8,381.9 L97.6,391.4 L105.2,397.1 L91.9,398.1 L82.4,396.2 L74.8,389.5 L73.0,380.0 L71.0,370.5 L66.0,358.0" fill="none" stroke="#1a1a1a" stroke-width="0.65"/>
<path d="M80.5,370.5 L90.0,369.6 L91.9,381.9 L93.8,393.3 L86.2,395.2 L82.4,385.7 L79.6,378.1 L80.5,370.5" fill="none" stroke="#1a1a1a" stroke-width="0.65"/>
<path d="M99.1,387.2 L99.2,388.3 L99.5,389.4 L99.9,390.4 L100.4,391.4 L101.0,392.4 L101.2,392.6 L104.0,393.0 L117.0,392.0 L130.0,392.5 L140.0,393.0 L150.0,394.0 L160.0,395.0 L161.6,395.6 L167.0,396.0 L169.4,397.0 L173.5,404.0 L172.3,405.2 L174.0,408.0 L172.0,420.0 L178.0,434.0 L193.0,441.0 L203.4,443.6 L212.9,442.2 L219.4,440.6 L230.0,437.6 L230.9,437.3 L231.7,436.9 L232.5,436.5 L243.2,430.3 L248.0,425.0 L254.0,412.0 L258.0,398.0 L259.0,380.0 L257.0,366.0 L250.0,354.0 L244.0,348.5 L232.0,346.5 L215.0,349.0 L214.7,349.0 L214.3,349.4 L213.6,350.2 L213.0,351.1 L206.4,361.6 L198.5,366.1 L190.9,368.6 L182.3,369.8 L152.2,363.8 L151.0,363.6 L149.9,363.6 L148.7,363.7 L147.6,363.9 L146.5,364.2 L138.5,366.9 L136.1,366.7 L130.0,370.0 L122.7,371.0 L107.0,370.0 L102.0,368.6 L101.2,369.3 L100.5,370.1 L99.8,371.0 L99.3,371.9 L98.8,372.9 L98.4,373.9 L98.2,375.0 L98.0,376.0 L98.0,377.1 L98.1,378.2 L99.1,387.2" fill="none" stroke="#1a1a1a" stroke-width="0.65"/>
<path d="M105.0,386.6 L105.1,387.1 L105.2,387.5 L105.4,388.0 L105.7,388.5 L105.9,388.9 L108.6,392.6 L117.0,392.0 L130.0,392.5 L140.0,393.0 L150.0,394.0 L160.0,395.0 L161.6,395.6 L167.0,396.0 L169.4,397.0 L173.5,404.0 L172.3,405.2 L174.0,408.0 L172.3,418.0 L174.0,424.7 L175.0,427.0 L175.0,427.0 L175.3,427.4 L175.7,427.7 L184.7,435.7 L185.0,436.0 L185.4,436.3 L185.8,436.5 L186.2,436.7 L186.7,436.8 L187.1,436.9 L187.6,437.0 L199.6,438.0 L200.2,438.0 L200.8,437.9 L213.8,435.9 L214.4,435.8 L228.4,431.8 L228.8,431.7 L229.2,431.5 L229.5,431.3 L241.5,424.3 L241.9,424.1 L242.3,423.8 L242.6,423.5 L242.9,423.1 L250.9,413.1 L251.2,412.7 L251.4,412.3 L251.6,411.9 L256.6,399.9 L256.8,399.4 L256.9,398.9 L257.0,398.4 L258.0,386.4 L258.0,385.7 L257.0,369.7 L256.9,369.3 L256.9,368.8 L256.7,368.4 L254.5,361.7 L251.5,356.6 L246.2,352.2 L245.8,351.9 L245.4,351.6 L244.9,351.4 L244.4,351.2 L243.9,351.1 L235.9,349.6 L235.5,349.5 L227.5,348.7 L227.0,348.7 L226.5,348.7 L226.0,348.8 L225.5,348.9 L225.0,349.1 L224.6,349.3 L224.1,349.6 L219.4,352.9 L219.0,353.2 L218.7,353.6 L218.4,353.9 L218.1,354.3 L210.6,366.1 L200.9,371.6 L192.3,374.5 L182.1,375.9 L151.0,369.7 L150.5,369.6 L149.9,369.6 L149.4,369.6 L148.9,369.7 L148.4,369.9 L139.3,372.9 L123.9,372.0 L123.6,372.0 L109.0,372.0 L108.5,372.0 L108.0,372.1 L107.5,372.2 L107.1,372.4 L106.6,372.6 L106.2,372.9 L105.8,373.2 L105.4,373.5 L105.1,373.9 L104.8,374.3 L104.6,374.7 L104.4,375.1 L104.2,375.6 L104.1,376.1 L104.0,376.6 L104.0,377.1 L104.0,377.6 L105.0,386.6" fill="none" stroke="#1a1a1a" stroke-width="0.65"/>
<path d="M109.0,377.0 L123.6,377.0 L140.0,378.0 L150.0,374.6 L166.0,377.8 L182.0,381.0 L193.4,379.4 L203.0,376.2 L214.2,369.8 L222.3,357.0 L227.0,353.7 L235.0,354.5 L243.0,356.0 L249.0,361.0 L252.0,370.0 L253.0,386.0 L252.0,398.0 L247.0,410.0 L239.0,420.0 L227.0,427.0 L213.0,431.0 L200.0,433.0 L188.0,432.0 L179.0,424.0 L176.0,412.0 L172.0,403.0 L165.0,398.5 L155.0,397.5 L140.0,396.5 L125.0,395.5 L115.0,393.0 L110.0,386.0 L109.0,377.0" fill="none" stroke="#1a1a1a" stroke-width="0.65"/>
<path d="M157.7,417.9 L156.8,421.3 L157.0,425.4 L158.7,429.3 L163.1,432.2 L169.0,434.0 L174.2,434.0 L175.5,429.6 L175.5,418.6 L172.1,411.8 L169.9,410.6 L165.8,412.6 L160.8,415.2 L157.7,417.9" fill="none" stroke="#1a1a1a" stroke-width="0.65"/>
<path d="M117.2,384.0 L119.2,386.8 L126.1,388.6 L155.5,390.5 L155.7,390.5 L165.7,391.5 L166.3,391.6 L167.0,391.8 L167.6,392.0 L168.2,392.3 L168.8,392.6 L175.8,397.1 L176.3,397.5 L176.8,398.0 L177.3,398.4 L177.7,399.0 L178.1,399.6 L178.4,400.2 L182.4,409.2 L182.6,409.7 L182.8,410.3 L185.3,420.2 L190.9,425.2 L199.8,426.0 L211.5,424.1 L224.2,420.5 L234.3,414.6 L240.9,406.4 L245.1,396.3 L246.0,385.9 L245.1,371.3 L243.0,365.1 L239.9,362.5 L234.0,361.4 L228.9,360.9 L227.5,361.9 L220.1,373.5 L219.7,374.1 L219.3,374.6 L218.8,375.1 L218.2,375.5 L217.7,375.9 L206.5,382.3 L205.9,382.6 L205.2,382.8 L195.6,386.0 L195.0,386.2 L194.4,386.3 L183.0,387.9 L182.2,388.0 L181.4,388.0 L180.6,387.9 L150.5,381.8 L142.3,384.6 L141.6,384.8 L140.9,384.9 L140.3,385.0 L139.6,385.0 L123.4,384.0 L117.2,384.0" fill="none" stroke="#1a1a1a" stroke-width="0.65"/>
<path d="M186.6,396.5 L190.6,405.5 L191.1,406.8 L191.5,408.1 L193.3,415.3 L194.6,416.5 L199.4,416.9 L209.6,415.3 L220.7,412.2 L228.4,407.7 L233.1,401.8 L236.3,394.2 L237.0,385.8 L236.2,373.1 L235.4,370.9 L232.8,370.4 L227.7,378.4 L226.8,379.6 L225.8,380.8 L224.7,381.9 L223.5,382.9 L222.1,383.7 L210.9,390.1 L209.5,390.8 L208.1,391.4 L198.5,394.6 L197.1,395.0 L195.6,395.2 L186.6,396.5" fill="none" stroke="#1a1a1a" stroke-width="0.65"/>
<path d="M189.7,286.9 L190.0,287.0 L205.0,293.0 L215.0,300.0 L221.0,310.0 L222.0,322.0 L230.0,330.0" fill="none" stroke="#1a1a1a" stroke-width="0.65"/>
<path d="M170.9,297.0 L180.0,300.0 L195.0,305.0 L205.0,315.0 L210.0,322.0 L212.0,330.0 L218.0,336.0" fill="none" stroke="#1a1a1a" stroke-width="0.65"/>
<path d="M252.0,352.0 L262.0,358.0 L275.0,362.0 L287.0,368.0" fill="none" stroke="#1a1a1a" stroke-width="0.65"/>
<path d="M70,346 C78,342 90,341 98,345 C96,352 88,356 80,356 C74,355 70,351 70,346 Z" fill="none" stroke="#1a1a1a" stroke-width="0.65"/>
<path d="M80,348 C84,345 90,346 91,349 C88,353 82,352 80,348 Z" fill="none" stroke="#1a1a1a" stroke-width="0.65"/>
<path d="M213,393 C215,390 219,391 219,394 C217,397 213,396 213,393 Z" fill="none" stroke="#1a1a1a" stroke-width="0.65"/>
<path d="M222,383 C224,380 228,381 228,384 C226,387 222,386 222,383 Z" fill="none" stroke="#1a1a1a" stroke-width="0.65"/>
<path d="M214,408 C216,406 219,407 219,409 C217,411 214,410 214,408 Z" fill="none" stroke="#1a1a1a" stroke-width="0.65"/>
<path d="M149,387 C150,382 158,382 160,387 C158,392 151,392 149,387 Z" fill="none" stroke="#1a1a1a" stroke-width="0.65"/>
<path d="M178.0,447.0 L177.6,447.0 L176.5,447.2 L176.4,447.2 L176.2,447.2 L166.4,447.2 L162.2,449.4 L160.4,452.0 L161.2,455.3 L166.0,458.0 L178.0,459.0 L190.0,460.0 L197.0,455.0 L196.0,447.0 L188.0,445.0 L185.1,445.6 L184.4,445.8 L184.1,445.9 L180.7,446.5 Z" fill="#e8c444" stroke="#1a1a1a" stroke-width="0.6"/>
<path d="M178.5,449.5 L178.2,449.5 L177.9,449.5 L177.8,449.5 L177.0,449.6 L176.9,449.7 L176.7,449.7 L176.5,449.7 L176.3,449.7 L176.2,449.7 L167.0,449.7 L163.9,451.3 L163.1,452.5 L163.4,453.6 L166.8,455.6 L189.3,457.4 L194.3,453.8 L193.7,449.0 L187.9,447.6 L185.7,448.0 L185.2,448.2 L185.0,448.2 L184.7,448.3 L184.6,448.3 L181.2,448.9 Z" fill="#dfa43a" stroke="#1a1a1a" stroke-width="0.5"/>
<ellipse cx="163" cy="450.8" rx="2.6" ry="2.4" fill="#d8c890" stroke="#333" stroke-width="0.5"/>
<ellipse cx="278" cy="386" rx="3.5" ry="2.6" fill="#b8b0a0" stroke="#333" stroke-width="0.5"/>
<ellipse cx="86" cy="348.5" rx="3" ry="2" fill="#d8dce0" stroke="#333" stroke-width="0.5"/>
<path d="M54.8,337.8 L52.0,343.5 L46.3,348.2 L41.6,351.0 L44.5,352.9 L52.0,354.8 L55.8,358.6 L49.2,362.4 L48.2,366.2 L51.1,368.1 L50.1,375.6 L53.9,383.2 L57.7,387.0 L63.4,390.7 L72.5,399.5 L86.7,399.0 L98.7,401.5 L104.9,403.8 L109.9,402.5 L116.1,399.0 L124.8,396.0 L132.0,395.5 L140.0,395.0 L150.0,395.0 L160.0,395.5 L167.0,396.0 L169.4,397.0 L173.5,404.0 L170.0,407.5 L164.7,410.0 L158.6,412.6 L154.2,416.5 L152.0,422.3 L152.6,427.6 L155.8,433.0 L161.5,436.8 L168.6,438.3 L177.9,438.9 L184.5,439.6 L191.5,441.4 L183.8,443.9 L176.2,445.2 L165.9,445.2 L160.8,447.8 L158.2,451.6 L159.5,456.7 L153.1,455.4 L149.3,458.0 L144.2,460.6 L139.1,461.8 L136.5,465.7 L140.3,468.2 L148.0,469.5 L153.1,470.8 L160.8,468.2 L165.9,465.7 L176.2,467.0 L186.4,469.5 L194.0,470.8 L201.7,468.2 L207.0,466.0 L216.9,464.3 L229.2,459.4 L241.5,452.0 L251.3,443.4 L258.7,433.6 L264.8,421.3 L267.3,409.0 L269.7,399.2 L275.9,398.0 L285.7,395.5 L294.3,385.7 L295.6,374.6 L291.9,363.5 L280.8,358.6 L273.5,357.9 L260.3,351.3 L249.7,342.1 L241.8,332.8 L231.2,326.2 L224.6,318.2 L225.9,309.0 L228.5,303.7 L225.9,294.4 L231.2,293.1 L241.8,295.7 L244.4,293.1 L233.8,289.1 L228.5,283.8 L229.8,278.5 L233.8,279.9 L237.8,275.9 L233.8,270.6 L225.9,266.6 L215.3,270.6 L207.3,278.5 L196.8,285.1 L184.8,286.5 L172.9,294.4 L161.0,302.4 L158.4,307.6 L162.4,314.3 L170.3,319.6 L180.9,323.5 L188.8,324.8 L172.9,331.5 L170.0,333.6 L163.6,335.9 L156.8,337.0 L149.9,337.6 L145.4,339.9 L139.7,340.4 L134.0,341.6 L129.5,346.1 L128.4,351.8 L129.5,357.5 L132.9,360.9 L131.8,362.0 L126.1,363.1 L119.3,362.6 L112.5,360.9 L111.3,357.5 L114.8,352.9 L113.1,349.5 L111.9,345.5 L115.9,343.8 L122.1,342.7 L123.3,338.2 L120.4,334.8 L111.3,334.2 L97.4,334.0 L84.1,333.1 L69.0,332.1 L59.6,333.1 Z" fill="none" stroke="#1e1e1e" stroke-width="0.8"/>
<path d="M131,390.2 L132.9,390.6 L142.2,392.6 L151.4,392.6 L159.4,393.2 L164.7,392.6 L168.6,395.9 L170,399.8 L172.6,403.8 L170,407.8 L164.7,410.4 L159.4,413.1 L155.4,417 L153.4,422.3 L154.1,427.6 L156.7,432.2 L162,435.5 L168.6,436.9 L177.9,437.5 L184.5,438.2 L191.1,438.8" fill="none" stroke="#111" stroke-width="2.4" stroke-linejoin="round"/>
<path d="M168.6,403.8 L175,405 L181.9,409.8 L176,408.5 L170.5,407.5 Z" fill="#d8b860"/>
<text transform="translate(37.56,317.65) scale(0.2097,0.2022)" font-size="100" font-weight="bold" fill="#111" stroke="#111" stroke-width="0.74" >(c)</text>
<defs><linearGradient id="cb" x1="0" x2="1" y1="0" y2="0"><stop offset="0" stop-color="#c8dca0"/><stop offset="0.068" stop-color="#88c888"/><stop offset="0.147" stop-color="#70bc70"/><stop offset="0.209" stop-color="#a0c880"/><stop offset="0.27" stop-color="#e0c840"/><stop offset="0.317" stop-color="#e8c030"/><stop offset="0.364" stop-color="#e89028"/><stop offset="0.409" stop-color="#c88820"/><stop offset="0.44" stop-color="#c0a040"/><stop offset="0.486" stop-color="#d8c080"/><stop offset="0.547" stop-color="#f0e8c0"/><stop offset="0.595" stop-color="#f8fcf0"/><stop offset="0.672" stop-color="#e0fcfc"/><stop offset="0.75" stop-color="#d0f8f8"/><stop offset="0.812" stop-color="#a0e8f0"/><stop offset="0.857" stop-color="#60b8f0"/><stop offset="0.92" stop-color="#3878e8"/><stop offset="0.982" stop-color="#2040f0"/><stop offset="1" stop-color="#2040f0"/></linearGradient></defs><rect x="126.3" y="507.1" width="98.2" height="8.6" fill="url(#cb)"/><text transform="translate(116.53,501.49) scale(0.1667,0.1552)" font-size="100" font-weight="normal" fill="#111" stroke="#111" stroke-width="1.29" >0</text><text transform="translate(199.01,499.74) scale(0.1820,0.1576)" font-size="100" font-weight="normal" fill="#111" stroke="#111" stroke-width="1.27" >59 m</text>
<rect x="383.6" y="288.5" width="287.7" height="208.2" fill="none" stroke="#444" stroke-width="1"/>
<line x1="383.6" y1="288.3" x2="378.90000000000003" y2="288.3" stroke="#444" stroke-width="1"/>
<line x1="383.6" y1="352.4" x2="378.90000000000003" y2="352.4" stroke="#444" stroke-width="1"/>
<line x1="383.6" y1="416.5" x2="378.90000000000003" y2="416.5" stroke="#444" stroke-width="1"/>
<line x1="383.6" y1="480.6" x2="378.90000000000003" y2="480.6" stroke="#444" stroke-width="1"/>
<line x1="383.6" y1="320.4" x2="381.1" y2="320.4" stroke="#444" stroke-width="1"/>
<line x1="383.6" y1="384.4" x2="381.1" y2="384.4" stroke="#444" stroke-width="1"/>
<line x1="383.6" y1="448.6" x2="381.1" y2="448.6" stroke="#444" stroke-width="1"/>
<line x1="404.1" y1="496.7" x2="404.1" y2="500.7" stroke="#444" stroke-width="1"/>
<line x1="445.2" y1="496.7" x2="445.2" y2="500.7" stroke="#444" stroke-width="1"/>
<line x1="486.2" y1="496.7" x2="486.2" y2="500.7" stroke="#444" stroke-width="1"/>
<line x1="527.2" y1="496.7" x2="527.2" y2="500.7" stroke="#444" stroke-width="1"/>
<line x1="568.3" y1="496.7" x2="568.3" y2="500.7" stroke="#444" stroke-width="1"/>
<line x1="609.4" y1="496.7" x2="609.4" y2="500.7" stroke="#444" stroke-width="1"/>
<line x1="650.4" y1="496.7" x2="650.4" y2="500.7" stroke="#444" stroke-width="1"/>
<text transform="translate(358.07,293.48) scale(0.1837,0.1612)" font-size="100" font-weight="normal" fill="#111" stroke="#111" stroke-width="1.24" >20</text>
<text transform="translate(358.74,357.19) scale(0.1736,0.1544)" font-size="100" font-weight="normal" fill="#111" stroke="#111" stroke-width="1.30" >10</text>
<text transform="translate(367.16,421.58) scale(0.1857,0.1612)" font-size="100" font-weight="normal" fill="#111" stroke="#111" stroke-width="1.24" >0</text>
<text transform="translate(352.27,485.58) scale(0.1816,0.1603)" font-size="100" font-weight="normal" fill="#111" stroke="#111" stroke-width="1.25" >-10</text>
<text transform="translate(346.93,451.64) rotate(-90) scale(0.1687,0.1700)" font-size="100" font-weight="normal" fill="#111" stroke="#111" stroke-width="1.18" >Temperature (°C)</text>
<text transform="translate(393.86,317.58) scale(0.2088,0.2056)" font-size="100" font-weight="bold" fill="#111" stroke="#111" stroke-width="0.73" >(d)</text>
<text transform="translate(387.56,523.34) scale(0.1783,0.1837)" font-size="100" font-weight="normal" fill="#111" stroke="#111" stroke-width="1.09" >May</text>
<text transform="translate(430.34,523.34) scale(0.1813,0.1837)" font-size="100" font-weight="normal" fill="#111" stroke="#111" stroke-width="1.09" >Jun.</text>
<text transform="translate(473.73,523.34) scale(0.1857,0.1837)" font-size="100" font-weight="normal" fill="#111" stroke="#111" stroke-width="1.09" >Jul.</text>
<text transform="translate(512.22,523.34) scale(0.1800,0.1837)" font-size="100" font-weight="normal" fill="#111" stroke="#111" stroke-width="1.09" >Aug.</text>
<text transform="translate(556.72,523.34) scale(0.1826,0.1837)" font-size="100" font-weight="normal" fill="#111" stroke="#111" stroke-width="1.09" >Sep.</text>
<text transform="translate(598.27,523.34) scale(0.1830,0.1837)" font-size="100" font-weight="normal" fill="#111" stroke="#111" stroke-width="1.09" >Oct.</text>
<text transform="translate(637.34,523.34) scale(0.1873,0.1837)" font-size="100" font-weight="normal" fill="#111" stroke="#111" stroke-width="1.09" >Nov.</text>
<text transform="translate(621.85,306.7) scale(0.1483,0.1379)" font-size="100" font-weight="normal" fill="#111" stroke="#111" stroke-width="1.45" >AT</text>
<text transform="translate(621.38,322.33) scale(0.1412,0.1343)" font-size="100" font-weight="normal" fill="#111" stroke="#111" stroke-width="1.49" >LSWT</text>
<polyline points="404.1,414.6 445.2,383.2 486.2,371.0 527.2,374.8 568.3,392.1 609.4,435.7 650.4,472.9" fill="none" stroke="#3a3a3a" stroke-width="1"/>
<polyline points="404.1,381.9 445.2,354.3 486.2,335.1 527.2,328.7 568.3,335.1 609.4,357.2 650.4,387.3" fill="none" stroke="#e8353a" stroke-width="1"/>
<rect x="401.8" y="412.3" width="4.6" height="4.6" fill="#444"/>
<rect x="442.9" y="380.9" width="4.6" height="4.6" fill="#444"/>
<rect x="483.9" y="368.7" width="4.6" height="4.6" fill="#444"/>
<rect x="525.0" y="372.5" width="4.6" height="4.6" fill="#444"/>
<rect x="566.0" y="389.8" width="4.6" height="4.6" fill="#444"/>
<rect x="607.1" y="433.4" width="4.6" height="4.6" fill="#444"/>
<rect x="648.1" y="470.6" width="4.6" height="4.6" fill="#444"/>
<circle cx="404.1" cy="381.9" r="2.5" fill="#e8353a"/>
<circle cx="445.2" cy="354.3" r="2.5" fill="#e8353a"/>
<circle cx="486.2" cy="335.1" r="2.5" fill="#e8353a"/>
<circle cx="527.2" cy="328.7" r="2.5" fill="#e8353a"/>
<circle cx="568.3" cy="335.1" r="2.5" fill="#e8353a"/>
<circle cx="609.4" cy="357.2" r="2.5" fill="#e8353a"/>
<circle cx="650.4" cy="387.3" r="2.5" fill="#e8353a"/>
<line x1="585" y1="302.2" x2="614.4" y2="302.2" stroke="#3a3a3a" stroke-width="1"/>
<rect x="597.5" y="300" width="4.6" height="4.6" fill="#444"/>
<line x1="585" y1="317.9" x2="614.4" y2="317.9" stroke="#e8353a" stroke-width="1"/>
<circle cx="599.7" cy="317.9" r="2.5" fill="#e8353a"/>
</svg></body></html>
